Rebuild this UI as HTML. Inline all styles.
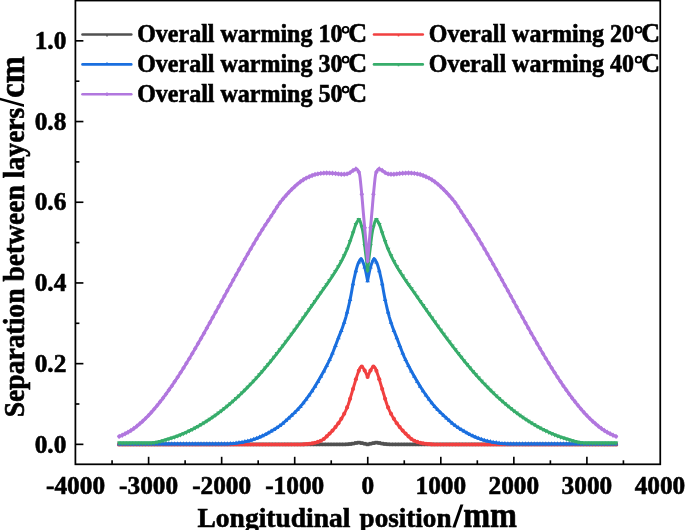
<!DOCTYPE html>
<html><head><meta charset="utf-8"><style>
html,body{margin:0;padding:0;background:#fff}
svg{display:block;will-change:transform;font-family:"Liberation Serif",serif;font-weight:bold;fill:#000}
text{stroke:#000;stroke-width:0.6px}
</style></head><body>
<svg width="685" height="530" viewBox="0 0 685 530">
<rect width="685" height="530" fill="#fff"/>
<defs><marker id="mblack" markerWidth="8" markerHeight="8" viewBox="-4 -4 8 8" refX="0" refY="0" markerUnits="userSpaceOnUse"><rect x="-1.8" y="-1.8" width="3.6" height="3.6" fill="#515151"/></marker><marker id="mred" markerWidth="8" markerHeight="8" viewBox="-4 -4 8 8" refX="0" refY="0" markerUnits="userSpaceOnUse"><circle r="2.05" fill="#F14040"/></marker><marker id="mblue" markerWidth="8" markerHeight="8" viewBox="-4 -4 8 8" refX="0" refY="0" markerUnits="userSpaceOnUse"><polygon points="0,-2.7 2.3,1.3 -2.3,1.3" fill="#1A6FDF"/></marker><marker id="mgreen" markerWidth="8" markerHeight="8" viewBox="-4 -4 8 8" refX="0" refY="0" markerUnits="userSpaceOnUse"><polygon points="0,2.7 2.3,-1.3 -2.3,-1.3" fill="#37AD6B"/></marker><marker id="mpurple" markerWidth="8" markerHeight="8" viewBox="-4 -4 8 8" refX="0" refY="0" markerUnits="userSpaceOnUse"><polygon points="0,-2.7 2.3,0 0,2.7 -2.3,0" fill="#B177DE"/></marker></defs>
<g fill="none" stroke-width="3.0" stroke-linejoin="round" stroke-linecap="butt">
<path d="M118.0,444.4 L118.5,444.4 L119.0,444.4 L119.5,444.4 L120.0,444.4 L120.5,444.4 L121.0,444.4 L121.5,444.4 L122.0,444.4 L122.5,444.4 L123.0,444.4 L123.5,444.4 L124.0,444.4 L124.5,444.4 L125.0,444.4 L125.5,444.4 L126.0,444.4 L126.5,444.4 L127.0,444.4 L127.5,444.4 L128.0,444.4 L128.5,444.4 L129.0,444.4 L129.5,444.4 L130.0,444.4 L130.5,444.4 L131.0,444.4 L131.5,444.4 L132.0,444.4 L132.5,444.4 L133.0,444.4 L133.5,444.4 L134.0,444.4 L134.5,444.4 L135.0,444.4 L135.5,444.4 L136.0,444.4 L136.5,444.4 L137.0,444.4 L137.5,444.4 L138.0,444.4 L138.5,444.4 L139.0,444.4 L139.5,444.4 L140.0,444.4 L140.5,444.4 L141.0,444.4 L141.5,444.4 L142.0,444.4 L142.5,444.4 L143.0,444.4 L143.5,444.4 L144.0,444.4 L144.5,444.4 L145.0,444.4 L145.5,444.4 L146.0,444.4 L146.5,444.4 L147.0,444.4 L147.5,444.4 L148.0,444.4 L148.5,444.4 L149.0,444.4 L149.5,444.4 L150.0,444.4 L150.5,444.4 L151.0,444.4 L151.5,444.4 L152.0,444.4 L152.5,444.4 L153.0,444.4 L153.5,444.4 L154.0,444.4 L154.5,444.4 L155.0,444.4 L155.5,444.4 L156.0,444.4 L156.5,444.4 L157.0,444.4 L157.5,444.4 L158.0,444.4 L158.5,444.4 L159.0,444.4 L159.5,444.4 L160.0,444.4 L160.5,444.4 L161.0,444.4 L161.5,444.4 L162.0,444.4 L162.5,444.4 L163.0,444.4 L163.5,444.4 L164.0,444.4 L164.5,444.4 L165.0,444.4 L165.5,444.4 L166.0,444.4 L166.5,444.4 L167.0,444.4 L167.5,444.4 L168.0,444.4 L168.5,444.4 L169.0,444.4 L169.5,444.4 L170.0,444.4 L170.5,444.4 L171.0,444.4 L171.5,444.4 L172.0,444.4 L172.5,444.4 L173.0,444.4 L173.5,444.4 L174.0,444.4 L174.5,444.4 L175.0,444.4 L175.5,444.4 L176.0,444.4 L176.5,444.4 L177.0,444.4 L177.5,444.4 L178.0,444.4 L178.5,444.4 L179.0,444.4 L179.5,444.4 L180.0,444.4 L180.5,444.4 L181.0,444.4 L181.5,444.4 L182.0,444.4 L182.5,444.4 L183.0,444.4 L183.5,444.4 L184.0,444.4 L184.5,444.4 L185.0,444.4 L185.5,444.4 L186.0,444.4 L186.5,444.4 L187.0,444.4 L187.5,444.4 L188.0,444.4 L188.5,444.4 L189.0,444.4 L189.5,444.4 L190.0,444.4 L190.5,444.4 L191.0,444.4 L191.5,444.4 L192.0,444.4 L192.5,444.4 L193.0,444.4 L193.5,444.4 L194.0,444.4 L194.5,444.4 L195.0,444.4 L195.5,444.4 L196.0,444.4 L196.5,444.4 L197.0,444.4 L197.5,444.4 L198.0,444.4 L198.5,444.4 L199.0,444.4 L199.5,444.4 L200.0,444.4 L200.5,444.4 L201.0,444.4 L201.5,444.4 L202.0,444.4 L202.5,444.4 L203.0,444.4 L203.5,444.4 L204.0,444.4 L204.5,444.4 L205.0,444.4 L205.5,444.4 L206.0,444.4 L206.5,444.4 L207.0,444.4 L207.5,444.4 L208.0,444.4 L208.5,444.4 L209.0,444.4 L209.5,444.4 L210.0,444.4 L210.5,444.4 L211.0,444.4 L211.5,444.4 L212.0,444.4 L212.5,444.4 L213.0,444.4 L213.5,444.4 L214.0,444.4 L214.5,444.4 L215.0,444.4 L215.5,444.4 L216.0,444.4 L216.5,444.4 L217.0,444.4 L217.5,444.4 L218.0,444.4 L218.5,444.4 L219.0,444.4 L219.5,444.4 L220.0,444.4 L220.5,444.4 L221.0,444.4 L221.5,444.4 L222.0,444.4 L222.5,444.4 L223.0,444.4 L223.5,444.4 L224.0,444.4 L224.5,444.4 L225.0,444.4 L225.5,444.4 L226.0,444.4 L226.5,444.4 L227.0,444.4 L227.5,444.4 L228.0,444.4 L228.5,444.4 L229.0,444.4 L229.5,444.4 L230.0,444.4 L230.5,444.4 L231.0,444.4 L231.5,444.4 L232.0,444.4 L232.5,444.4 L233.0,444.4 L233.5,444.4 L234.0,444.4 L234.5,444.4 L235.0,444.4 L235.5,444.4 L236.0,444.4 L236.5,444.4 L237.0,444.4 L237.5,444.4 L238.0,444.4 L238.5,444.4 L239.0,444.4 L239.5,444.4 L240.0,444.4 L240.5,444.4 L241.0,444.4 L241.5,444.4 L242.0,444.4 L242.5,444.4 L243.0,444.4 L243.5,444.4 L244.0,444.4 L244.5,444.4 L245.0,444.4 L245.5,444.4 L246.0,444.4 L246.5,444.4 L247.0,444.4 L247.5,444.4 L248.0,444.4 L248.5,444.4 L249.0,444.4 L249.5,444.4 L250.0,444.4 L250.5,444.4 L251.0,444.4 L251.5,444.4 L252.0,444.4 L252.5,444.4 L253.0,444.4 L253.5,444.4 L254.0,444.4 L254.5,444.4 L255.0,444.4 L255.5,444.4 L256.0,444.4 L256.5,444.4 L257.0,444.4 L257.5,444.4 L258.0,444.4 L258.5,444.4 L259.0,444.4 L259.5,444.4 L260.0,444.4 L260.5,444.4 L261.0,444.4 L261.5,444.4 L262.0,444.4 L262.5,444.4 L263.0,444.4 L263.5,444.4 L264.0,444.4 L264.5,444.4 L265.0,444.4 L265.5,444.4 L266.0,444.4 L266.5,444.4 L267.0,444.4 L267.5,444.4 L268.0,444.4 L268.5,444.4 L269.0,444.4 L269.5,444.4 L270.0,444.4 L270.5,444.4 L271.0,444.4 L271.5,444.4 L272.0,444.4 L272.5,444.4 L273.0,444.4 L273.5,444.4 L274.0,444.4 L274.5,444.4 L275.0,444.4 L275.5,444.4 L276.0,444.4 L276.5,444.4 L277.0,444.4 L277.5,444.4 L278.0,444.4 L278.5,444.4 L279.0,444.4 L279.5,444.4 L280.0,444.4 L280.5,444.4 L281.0,444.4 L281.5,444.4 L282.0,444.4 L282.5,444.4 L283.0,444.4 L283.5,444.4 L284.0,444.4 L284.5,444.4 L285.0,444.4 L285.5,444.4 L286.0,444.4 L286.5,444.4 L287.0,444.4 L287.5,444.4 L288.0,444.4 L288.5,444.4 L289.0,444.4 L289.5,444.4 L290.0,444.4 L290.5,444.4 L291.0,444.4 L291.5,444.4 L292.0,444.4 L292.5,444.4 L293.0,444.4 L293.5,444.4 L294.0,444.4 L294.5,444.4 L295.0,444.4 L295.5,444.4 L296.0,444.4 L296.5,444.4 L297.0,444.4 L297.5,444.4 L298.0,444.4 L298.5,444.4 L299.0,444.4 L299.5,444.4 L300.0,444.4 L300.5,444.4 L301.0,444.4 L301.5,444.4 L302.0,444.4 L302.5,444.4 L303.0,444.4 L303.5,444.4 L304.0,444.4 L304.5,444.4 L305.0,444.4 L305.5,444.4 L306.0,444.4 L306.5,444.4 L307.0,444.4 L307.5,444.4 L308.0,444.4 L308.5,444.4 L309.0,444.4 L309.5,444.4 L310.0,444.4 L310.5,444.4 L311.0,444.4 L311.5,444.4 L312.0,444.4 L312.5,444.4 L313.0,444.4 L313.5,444.4 L314.0,444.4 L314.5,444.4 L315.0,444.4 L315.5,444.4 L316.0,444.4 L316.5,444.4 L317.0,444.4 L317.5,444.4 L318.0,444.4 L318.5,444.4 L319.0,444.4 L319.5,444.4 L320.0,444.4 L320.5,444.4 L321.0,444.4 L321.5,444.4 L322.0,444.4 L322.5,444.4 L323.0,444.4 L323.5,444.4 L324.0,444.4 L324.5,444.4 L325.0,444.4 L325.5,444.4 L326.0,444.4 L326.5,444.4 L327.0,444.4 L327.5,444.4 L328.0,444.4 L328.5,444.4 L329.0,444.4 L329.5,444.4 L330.0,444.4 L330.5,444.4 L331.0,444.4 L331.5,444.4 L332.0,444.4 L332.5,444.4 L333.0,444.4 L333.5,444.4 L334.0,444.4 L334.5,444.4 L335.0,444.4 L335.5,444.4 L336.0,444.4 L336.5,444.4 L337.0,444.4 L337.5,444.4 L338.0,444.4 L338.5,444.4 L339.0,444.4 L339.5,444.4 L340.0,444.4 L340.5,444.4 L341.0,444.4 L341.5,444.4 L342.0,444.4 L342.5,444.4 L343.0,444.4 L343.5,444.4 L344.0,444.4 L344.5,444.4 L345.0,444.4 L345.5,444.4 L346.0,444.4 L346.5,444.4 L347.0,444.3 L347.5,444.3 L348.0,444.3 L348.5,444.2 L349.0,444.2 L349.5,444.1 L350.0,444.0 L350.5,444.0 L351.0,443.9 L351.5,443.9 L352.0,443.8 L352.5,443.7 L353.0,443.6 L353.5,443.5 L354.0,443.4 L354.5,443.3 L355.0,443.2 L355.5,443.1 L356.0,443.0 L356.5,442.9 L357.0,442.8 L357.5,442.7 L358.0,442.6 L358.5,442.6 L358.6,442.6 L359.0,442.6 L359.5,442.7 L360.0,442.8 L360.5,442.9 L361.0,443.0 L361.5,443.1 L362.0,443.2 L362.5,443.3 L363.0,443.4 L363.5,443.5 L364.0,443.6 L364.5,443.7 L365.0,443.8 L365.5,443.9 L366.0,444.0 L366.5,444.1 L367.0,444.3 L367.5,444.4 L367.6,444.4 L367.7,444.4 L368.2,444.3 L368.7,444.1 L369.2,444.0 L369.7,443.9 L370.2,443.8 L370.7,443.7 L371.2,443.6 L371.7,443.5 L372.2,443.4 L372.7,443.3 L373.2,443.2 L373.7,443.1 L374.2,443.0 L374.7,442.9 L375.2,442.8 L375.7,442.7 L376.2,442.6 L376.6,442.6 L376.7,442.6 L377.2,442.6 L377.7,442.7 L378.2,442.8 L378.7,442.9 L379.2,443.0 L379.7,443.1 L380.2,443.2 L380.7,443.3 L381.2,443.4 L381.7,443.5 L382.2,443.6 L382.7,443.7 L383.2,443.8 L383.7,443.9 L384.2,443.9 L384.7,444.0 L385.2,444.0 L385.7,444.1 L386.2,444.2 L386.7,444.2 L387.2,444.3 L387.7,444.3 L388.2,444.3 L388.7,444.4 L389.2,444.4 L389.7,444.4 L390.2,444.4 L390.7,444.4 L391.2,444.4 L391.7,444.4 L392.2,444.4 L392.7,444.4 L393.2,444.4 L393.7,444.4 L394.2,444.4 L394.7,444.4 L395.2,444.4 L395.7,444.4 L396.2,444.4 L396.7,444.4 L397.2,444.4 L397.7,444.4 L398.2,444.4 L398.7,444.4 L399.2,444.4 L399.7,444.4 L400.2,444.4 L400.7,444.4 L401.2,444.4 L401.7,444.4 L402.2,444.4 L402.7,444.4 L403.2,444.4 L403.7,444.4 L404.2,444.4 L404.7,444.4 L405.2,444.4 L405.7,444.4 L406.2,444.4 L406.7,444.4 L407.2,444.4 L407.7,444.4 L408.2,444.4 L408.7,444.4 L409.2,444.4 L409.7,444.4 L410.2,444.4 L410.7,444.4 L411.2,444.4 L411.7,444.4 L412.2,444.4 L412.7,444.4 L413.2,444.4 L413.7,444.4 L414.2,444.4 L414.7,444.4 L415.2,444.4 L415.7,444.4 L416.2,444.4 L416.7,444.4 L417.2,444.4 L417.7,444.4 L418.2,444.4 L418.7,444.4 L419.2,444.4 L419.7,444.4 L420.2,444.4 L420.7,444.4 L421.2,444.4 L421.7,444.4 L422.2,444.4 L422.7,444.4 L423.2,444.4 L423.7,444.4 L424.2,444.4 L424.7,444.4 L425.2,444.4 L425.7,444.4 L426.2,444.4 L426.7,444.4 L427.2,444.4 L427.7,444.4 L428.2,444.4 L428.7,444.4 L429.2,444.4 L429.7,444.4 L430.2,444.4 L430.7,444.4 L431.2,444.4 L431.7,444.4 L432.2,444.4 L432.7,444.4 L433.2,444.4 L433.7,444.4 L434.2,444.4 L434.7,444.4 L435.2,444.4 L435.7,444.4 L436.2,444.4 L436.7,444.4 L437.2,444.4 L437.7,444.4 L438.2,444.4 L438.7,444.4 L439.2,444.4 L439.7,444.4 L440.2,444.4 L440.7,444.4 L441.2,444.4 L441.7,444.4 L442.2,444.4 L442.7,444.4 L443.2,444.4 L443.7,444.4 L444.2,444.4 L444.7,444.4 L445.2,444.4 L445.7,444.4 L446.2,444.4 L446.7,444.4 L447.2,444.4 L447.7,444.4 L448.2,444.4 L448.7,444.4 L449.2,444.4 L449.7,444.4 L450.2,444.4 L450.7,444.4 L451.2,444.4 L451.7,444.4 L452.2,444.4 L452.7,444.4 L453.2,444.4 L453.7,444.4 L454.2,444.4 L454.7,444.4 L455.2,444.4 L455.7,444.4 L456.2,444.4 L456.7,444.4 L457.2,444.4 L457.7,444.4 L458.2,444.4 L458.7,444.4 L459.2,444.4 L459.7,444.4 L460.2,444.4 L460.7,444.4 L461.2,444.4 L461.7,444.4 L462.2,444.4 L462.7,444.4 L463.2,444.4 L463.7,444.4 L464.2,444.4 L464.7,444.4 L465.2,444.4 L465.7,444.4 L466.2,444.4 L466.7,444.4 L467.2,444.4 L467.7,444.4 L468.2,444.4 L468.7,444.4 L469.2,444.4 L469.7,444.4 L470.2,444.4 L470.7,444.4 L471.2,444.4 L471.7,444.4 L472.2,444.4 L472.7,444.4 L473.2,444.4 L473.7,444.4 L474.2,444.4 L474.7,444.4 L475.2,444.4 L475.7,444.4 L476.2,444.4 L476.7,444.4 L477.2,444.4 L477.7,444.4 L478.2,444.4 L478.7,444.4 L479.2,444.4 L479.7,444.4 L480.2,444.4 L480.7,444.4 L481.2,444.4 L481.7,444.4 L482.2,444.4 L482.7,444.4 L483.2,444.4 L483.7,444.4 L484.2,444.4 L484.7,444.4 L485.2,444.4 L485.7,444.4 L486.2,444.4 L486.7,444.4 L487.2,444.4 L487.7,444.4 L488.2,444.4 L488.7,444.4 L489.2,444.4 L489.7,444.4 L490.2,444.4 L490.7,444.4 L491.2,444.4 L491.7,444.4 L492.2,444.4 L492.7,444.4 L493.2,444.4 L493.7,444.4 L494.2,444.4 L494.7,444.4 L495.2,444.4 L495.7,444.4 L496.2,444.4 L496.7,444.4 L497.2,444.4 L497.7,444.4 L498.2,444.4 L498.7,444.4 L499.2,444.4 L499.7,444.4 L500.2,444.4 L500.7,444.4 L501.2,444.4 L501.7,444.4 L502.2,444.4 L502.7,444.4 L503.2,444.4 L503.7,444.4 L504.2,444.4 L504.7,444.4 L505.2,444.4 L505.7,444.4 L506.2,444.4 L506.7,444.4 L507.2,444.4 L507.7,444.4 L508.2,444.4 L508.7,444.4 L509.2,444.4 L509.7,444.4 L510.2,444.4 L510.7,444.4 L511.2,444.4 L511.7,444.4 L512.2,444.4 L512.7,444.4 L513.2,444.4 L513.7,444.4 L514.2,444.4 L514.7,444.4 L515.2,444.4 L515.7,444.4 L516.2,444.4 L516.7,444.4 L517.2,444.4 L517.7,444.4 L518.2,444.4 L518.7,444.4 L519.2,444.4 L519.7,444.4 L520.2,444.4 L520.7,444.4 L521.2,444.4 L521.7,444.4 L522.2,444.4 L522.7,444.4 L523.2,444.4 L523.7,444.4 L524.2,444.4 L524.7,444.4 L525.2,444.4 L525.7,444.4 L526.2,444.4 L526.7,444.4 L527.2,444.4 L527.7,444.4 L528.2,444.4 L528.7,444.4 L529.2,444.4 L529.7,444.4 L530.2,444.4 L530.7,444.4 L531.2,444.4 L531.7,444.4 L532.2,444.4 L532.7,444.4 L533.2,444.4 L533.7,444.4 L534.2,444.4 L534.7,444.4 L535.2,444.4 L535.7,444.4 L536.2,444.4 L536.7,444.4 L537.2,444.4 L537.7,444.4 L538.2,444.4 L538.7,444.4 L539.2,444.4 L539.7,444.4 L540.2,444.4 L540.7,444.4 L541.2,444.4 L541.7,444.4 L542.2,444.4 L542.7,444.4 L543.2,444.4 L543.7,444.4 L544.2,444.4 L544.7,444.4 L545.2,444.4 L545.7,444.4 L546.2,444.4 L546.7,444.4 L547.2,444.4 L547.7,444.4 L548.2,444.4 L548.7,444.4 L549.2,444.4 L549.7,444.4 L550.2,444.4 L550.7,444.4 L551.2,444.4 L551.7,444.4 L552.2,444.4 L552.7,444.4 L553.2,444.4 L553.7,444.4 L554.2,444.4 L554.7,444.4 L555.2,444.4 L555.7,444.4 L556.2,444.4 L556.7,444.4 L557.2,444.4 L557.7,444.4 L558.2,444.4 L558.7,444.4 L559.2,444.4 L559.7,444.4 L560.2,444.4 L560.7,444.4 L561.2,444.4 L561.7,444.4 L562.2,444.4 L562.7,444.4 L563.2,444.4 L563.7,444.4 L564.2,444.4 L564.7,444.4 L565.2,444.4 L565.7,444.4 L566.2,444.4 L566.7,444.4 L567.2,444.4 L567.7,444.4 L568.2,444.4 L568.7,444.4 L569.2,444.4 L569.7,444.4 L570.2,444.4 L570.7,444.4 L571.2,444.4 L571.7,444.4 L572.2,444.4 L572.7,444.4 L573.2,444.4 L573.7,444.4 L574.2,444.4 L574.7,444.4 L575.2,444.4 L575.7,444.4 L576.2,444.4 L576.7,444.4 L577.2,444.4 L577.7,444.4 L578.2,444.4 L578.7,444.4 L579.2,444.4 L579.7,444.4 L580.2,444.4 L580.7,444.4 L581.2,444.4 L581.7,444.4 L582.2,444.4 L582.7,444.4 L583.2,444.4 L583.7,444.4 L584.2,444.4 L584.7,444.4 L585.2,444.4 L585.7,444.4 L586.2,444.4 L586.7,444.4 L587.2,444.4 L587.7,444.4 L588.2,444.4 L588.7,444.4 L589.2,444.4 L589.7,444.4 L590.2,444.4 L590.7,444.4 L591.2,444.4 L591.7,444.4 L592.2,444.4 L592.7,444.4 L593.2,444.4 L593.7,444.4 L594.2,444.4 L594.7,444.4 L595.2,444.4 L595.7,444.4 L596.2,444.4 L596.7,444.4 L597.2,444.4 L597.7,444.4 L598.2,444.4 L598.7,444.4 L599.2,444.4 L599.7,444.4 L600.2,444.4 L600.7,444.4 L601.2,444.4 L601.7,444.4 L602.2,444.4 L602.7,444.4 L603.2,444.4 L603.7,444.4 L604.2,444.4 L604.7,444.4 L605.2,444.4 L605.7,444.4 L606.2,444.4 L606.7,444.4 L607.2,444.4 L607.7,444.4 L608.2,444.4 L608.7,444.4 L609.2,444.4 L609.7,444.4 L610.2,444.4 L610.7,444.4 L611.2,444.4 L611.7,444.4 L612.2,444.4 L612.7,444.4 L613.2,444.4 L613.7,444.4 L614.2,444.4 L614.7,444.4 L615.2,444.4 L615.7,444.4 L616.2,444.4 L616.7,444.4 L617.2,444.4" stroke="#515151"/>
<polyline points="119.2,444.4 122.2,444.4 125.1,444.4 128.0,444.4 130.9,444.4 133.8,444.4 136.8,444.4 139.7,444.4 142.6,444.4 145.5,444.4 148.5,444.4 151.4,444.4 154.3,444.4 157.2,444.4 160.1,444.4 163.1,444.4 166.0,444.4 168.9,444.4 171.8,444.4 174.7,444.4 177.7,444.4 180.6,444.4 183.5,444.4 186.4,444.4 189.4,444.4 192.3,444.4 195.2,444.4 198.1,444.4 201.0,444.4 204.0,444.4 206.9,444.4 209.8,444.4 212.7,444.4 215.7,444.4 218.6,444.4 221.5,444.4 224.4,444.4 227.3,444.4 230.3,444.4 233.2,444.4 236.1,444.4 239.0,444.4 242.0,444.4 244.9,444.4 247.8,444.4 250.7,444.4 253.6,444.4 256.6,444.4 259.5,444.4 262.4,444.4 265.3,444.4 268.3,444.4 271.2,444.4 274.1,444.4 277.0,444.4 279.9,444.4 282.9,444.4 285.8,444.4 288.7,444.4 291.6,444.4 294.6,444.4 297.5,444.4 300.4,444.4 303.3,444.4 306.2,444.4 309.2,444.4 312.1,444.4 315.0,444.4 317.9,444.4 320.8,444.4 323.8,444.4 326.7,444.4 329.6,444.4 332.5,444.4 335.5,444.4 338.4,444.4 341.3,444.4 344.2,444.4 347.1,444.3 350.1,444.0 353.0,443.6 355.9,443.0 358.8,442.6 361.8,443.1 364.7,443.7 367.6,444.4 370.5,443.7 373.4,443.1 376.4,442.6 379.3,443.0 382.2,443.6 385.1,444.0 388.1,444.3 391.0,444.4 393.9,444.4 396.8,444.4 399.7,444.4 402.7,444.4 405.6,444.4 408.5,444.4 411.4,444.4 414.4,444.4 417.3,444.4 420.2,444.4 423.1,444.4 426.0,444.4 429.0,444.4 431.9,444.4 434.8,444.4 437.7,444.4 440.7,444.4 443.6,444.4 446.5,444.4 449.4,444.4 452.3,444.4 455.3,444.4 458.2,444.4 461.1,444.4 464.0,444.4 466.9,444.4 469.9,444.4 472.8,444.4 475.7,444.4 478.6,444.4 481.6,444.4 484.5,444.4 487.4,444.4 490.3,444.4 493.2,444.4 496.2,444.4 499.1,444.4 502.0,444.4 504.9,444.4 507.9,444.4 510.8,444.4 513.7,444.4 516.6,444.4 519.5,444.4 522.5,444.4 525.4,444.4 528.3,444.4 531.2,444.4 534.2,444.4 537.1,444.4 540.0,444.4 542.9,444.4 545.8,444.4 548.8,444.4 551.7,444.4 554.6,444.4 557.5,444.4 560.5,444.4 563.4,444.4 566.3,444.4 569.2,444.4 572.1,444.4 575.1,444.4 578.0,444.4 580.9,444.4 583.8,444.4 586.8,444.4 589.7,444.4 592.6,444.4 595.5,444.4 598.4,444.4 601.4,444.4 604.3,444.4 607.2,444.4 610.1,444.4 613.0,444.4 616.0,444.4" stroke="none" marker-start="url(#mblack)" marker-mid="url(#mblack)" marker-end="url(#mblack)"/>
<path d="M118.0,444.5 L118.5,444.5 L119.0,444.5 L119.5,444.5 L120.0,444.5 L120.5,444.5 L121.0,444.5 L121.5,444.5 L122.0,444.5 L122.5,444.5 L123.0,444.5 L123.5,444.5 L124.0,444.5 L124.5,444.5 L125.0,444.5 L125.5,444.5 L126.0,444.5 L126.5,444.5 L127.0,444.5 L127.5,444.5 L128.0,444.5 L128.5,444.5 L129.0,444.5 L129.5,444.5 L130.0,444.5 L130.5,444.5 L131.0,444.5 L131.5,444.5 L132.0,444.5 L132.5,444.5 L133.0,444.5 L133.5,444.5 L134.0,444.5 L134.5,444.5 L135.0,444.5 L135.5,444.5 L136.0,444.5 L136.5,444.5 L137.0,444.5 L137.5,444.5 L138.0,444.5 L138.5,444.5 L139.0,444.5 L139.5,444.5 L140.0,444.5 L140.5,444.5 L141.0,444.5 L141.5,444.5 L142.0,444.5 L142.5,444.5 L143.0,444.5 L143.5,444.5 L144.0,444.5 L144.5,444.5 L145.0,444.5 L145.5,444.5 L146.0,444.5 L146.5,444.5 L147.0,444.5 L147.5,444.5 L148.0,444.5 L148.5,444.5 L149.0,444.5 L149.5,444.5 L150.0,444.5 L150.5,444.5 L151.0,444.5 L151.5,444.5 L152.0,444.5 L152.5,444.5 L153.0,444.5 L153.5,444.5 L154.0,444.5 L154.5,444.5 L155.0,444.5 L155.5,444.5 L156.0,444.5 L156.5,444.5 L157.0,444.5 L157.5,444.5 L158.0,444.5 L158.5,444.5 L159.0,444.5 L159.5,444.5 L160.0,444.5 L160.5,444.5 L161.0,444.5 L161.5,444.5 L162.0,444.5 L162.5,444.5 L163.0,444.5 L163.5,444.5 L164.0,444.5 L164.5,444.5 L165.0,444.5 L165.5,444.5 L166.0,444.5 L166.5,444.5 L167.0,444.5 L167.5,444.5 L168.0,444.5 L168.5,444.5 L169.0,444.5 L169.5,444.5 L170.0,444.5 L170.5,444.5 L171.0,444.5 L171.5,444.5 L172.0,444.5 L172.5,444.5 L173.0,444.5 L173.5,444.5 L174.0,444.5 L174.5,444.5 L175.0,444.5 L175.5,444.5 L176.0,444.5 L176.5,444.5 L177.0,444.5 L177.5,444.5 L178.0,444.5 L178.5,444.5 L179.0,444.5 L179.5,444.5 L180.0,444.5 L180.5,444.5 L181.0,444.5 L181.5,444.5 L182.0,444.5 L182.5,444.5 L183.0,444.5 L183.5,444.5 L184.0,444.5 L184.5,444.5 L185.0,444.5 L185.5,444.5 L186.0,444.5 L186.5,444.5 L187.0,444.5 L187.5,444.5 L188.0,444.5 L188.5,444.5 L189.0,444.5 L189.5,444.5 L190.0,444.5 L190.5,444.5 L191.0,444.5 L191.5,444.5 L192.0,444.5 L192.5,444.5 L193.0,444.5 L193.5,444.5 L194.0,444.5 L194.5,444.5 L195.0,444.5 L195.5,444.5 L196.0,444.5 L196.5,444.5 L197.0,444.5 L197.5,444.5 L198.0,444.5 L198.5,444.5 L199.0,444.5 L199.5,444.5 L200.0,444.5 L200.5,444.5 L201.0,444.5 L201.5,444.5 L202.0,444.5 L202.5,444.5 L203.0,444.5 L203.5,444.5 L204.0,444.5 L204.5,444.5 L205.0,444.5 L205.5,444.5 L206.0,444.5 L206.5,444.5 L207.0,444.5 L207.5,444.5 L208.0,444.5 L208.5,444.5 L209.0,444.5 L209.5,444.5 L210.0,444.5 L210.5,444.5 L211.0,444.5 L211.5,444.5 L212.0,444.5 L212.5,444.5 L213.0,444.5 L213.5,444.5 L214.0,444.5 L214.5,444.5 L215.0,444.5 L215.5,444.5 L216.0,444.5 L216.5,444.5 L217.0,444.5 L217.5,444.5 L218.0,444.5 L218.5,444.5 L219.0,444.5 L219.5,444.5 L220.0,444.5 L220.5,444.5 L221.0,444.5 L221.5,444.5 L222.0,444.5 L222.5,444.5 L223.0,444.5 L223.5,444.5 L224.0,444.5 L224.5,444.5 L225.0,444.5 L225.5,444.5 L226.0,444.5 L226.5,444.5 L227.0,444.5 L227.5,444.5 L228.0,444.5 L228.5,444.5 L229.0,444.5 L229.5,444.5 L230.0,444.5 L230.5,444.5 L231.0,444.5 L231.5,444.5 L232.0,444.5 L232.5,444.5 L233.0,444.5 L233.5,444.5 L234.0,444.5 L234.5,444.5 L235.0,444.5 L235.5,444.5 L236.0,444.5 L236.5,444.5 L237.0,444.5 L237.5,444.5 L238.0,444.5 L238.5,444.5 L239.0,444.5 L239.5,444.5 L240.0,444.5 L240.5,444.5 L241.0,444.5 L241.5,444.5 L242.0,444.5 L242.5,444.5 L243.0,444.5 L243.5,444.5 L244.0,444.5 L244.5,444.5 L245.0,444.5 L245.5,444.5 L246.0,444.5 L246.5,444.5 L247.0,444.5 L247.5,444.5 L248.0,444.5 L248.5,444.5 L249.0,444.5 L249.5,444.5 L250.0,444.5 L250.5,444.5 L251.0,444.5 L251.5,444.5 L252.0,444.5 L252.5,444.5 L253.0,444.5 L253.5,444.5 L254.0,444.5 L254.5,444.5 L255.0,444.5 L255.5,444.5 L256.0,444.5 L256.5,444.5 L257.0,444.5 L257.5,444.5 L258.0,444.5 L258.5,444.5 L259.0,444.5 L259.5,444.5 L260.0,444.5 L260.5,444.5 L261.0,444.5 L261.5,444.5 L262.0,444.5 L262.5,444.5 L263.0,444.5 L263.5,444.5 L264.0,444.5 L264.5,444.5 L265.0,444.5 L265.5,444.5 L266.0,444.5 L266.5,444.5 L267.0,444.5 L267.5,444.5 L268.0,444.5 L268.5,444.5 L269.0,444.5 L269.5,444.5 L270.0,444.5 L270.5,444.5 L271.0,444.5 L271.5,444.5 L272.0,444.5 L272.5,444.5 L273.0,444.5 L273.5,444.5 L274.0,444.5 L274.5,444.5 L275.0,444.5 L275.5,444.5 L276.0,444.5 L276.5,444.5 L277.0,444.5 L277.5,444.5 L278.0,444.5 L278.5,444.5 L279.0,444.5 L279.5,444.5 L280.0,444.5 L280.5,444.5 L281.0,444.5 L281.5,444.5 L282.0,444.5 L282.5,444.5 L283.0,444.5 L283.5,444.5 L284.0,444.5 L284.5,444.5 L285.0,444.5 L285.5,444.5 L286.0,444.5 L286.5,444.5 L287.0,444.5 L287.5,444.5 L288.0,444.5 L288.5,444.5 L289.0,444.5 L289.5,444.5 L290.0,444.5 L290.5,444.5 L291.0,444.5 L291.5,444.5 L292.0,444.5 L292.5,444.5 L293.0,444.5 L293.5,444.5 L294.0,444.5 L294.5,444.5 L295.0,444.5 L295.5,444.5 L296.0,444.5 L296.5,444.5 L297.0,444.5 L297.5,444.5 L298.0,444.5 L298.5,444.5 L299.0,444.5 L299.5,444.5 L300.0,444.5 L300.5,444.5 L301.0,444.5 L301.5,444.5 L302.0,444.5 L302.5,444.4 L303.0,444.4 L303.5,444.4 L304.0,444.3 L304.5,444.3 L305.0,444.3 L305.5,444.2 L306.0,444.2 L306.5,444.1 L307.0,444.1 L307.5,444.0 L308.0,443.9 L308.5,443.9 L309.0,443.8 L309.5,443.8 L310.0,443.7 L310.5,443.6 L311.0,443.6 L311.5,443.5 L312.0,443.4 L312.5,443.3 L313.0,443.2 L313.5,443.1 L314.0,443.0 L314.5,442.9 L315.0,442.8 L315.5,442.6 L316.0,442.5 L316.5,442.4 L317.0,442.2 L317.5,442.1 L318.0,441.9 L318.5,441.7 L319.0,441.6 L319.5,441.4 L320.0,441.2 L320.5,441.0 L321.0,440.8 L321.5,440.5 L322.0,440.2 L322.5,439.9 L323.0,439.5 L323.5,439.2 L324.0,438.8 L324.5,438.4 L325.0,437.9 L325.5,437.5 L326.0,437.1 L326.5,436.6 L327.0,436.1 L327.5,435.6 L328.0,435.2 L328.5,434.7 L329.0,434.2 L329.5,433.7 L330.0,433.2 L330.5,432.7 L331.0,432.2 L331.5,431.7 L332.0,431.1 L332.5,430.6 L333.0,430.0 L333.5,429.5 L334.0,428.9 L334.5,428.3 L335.0,427.7 L335.5,427.1 L336.0,426.4 L336.5,425.8 L337.0,425.1 L337.5,424.4 L338.0,423.7 L338.5,423.0 L339.0,422.3 L339.5,421.6 L340.0,420.8 L340.5,420.1 L341.0,419.3 L341.5,418.5 L342.0,417.7 L342.5,416.8 L343.0,416.0 L343.5,415.1 L344.0,414.1 L344.5,413.1 L345.0,412.1 L345.5,411.1 L346.0,410.0 L346.5,408.9 L347.0,407.7 L347.3,407.0 L347.5,406.5 L348.0,405.2 L348.5,403.8 L349.0,402.3 L349.5,400.7 L350.0,399.1 L350.5,397.4 L351.0,395.7 L351.5,394.0 L352.0,392.3 L352.5,390.6 L353.0,389.0 L353.3,388.0 L353.5,387.4 L354.0,385.7 L354.5,384.1 L355.0,382.4 L355.5,380.7 L356.0,379.0 L356.5,377.4 L357.0,375.9 L357.5,374.4 L358.0,373.0 L358.5,371.6 L359.0,370.2 L359.5,369.0 L360.0,368.0 L360.3,367.6 L360.5,367.4 L361.0,366.9 L361.5,366.5 L362.0,366.4 L362.5,367.0 L363.0,367.7 L363.5,368.5 L364.0,369.3 L364.4,370.0 L364.5,370.2 L365.0,371.1 L365.5,372.1 L366.0,373.2 L366.5,374.3 L367.0,375.5 L367.5,376.7 L367.6,377.0 L367.7,376.7 L368.2,375.5 L368.7,374.3 L369.2,373.2 L369.7,372.1 L370.2,371.1 L370.7,370.2 L370.8,370.0 L371.2,369.3 L371.7,368.5 L372.2,367.7 L372.7,367.0 L373.2,366.4 L373.7,366.5 L374.2,366.9 L374.7,367.4 L374.9,367.6 L375.2,368.0 L375.7,369.0 L376.2,370.2 L376.7,371.6 L377.2,373.0 L377.7,374.4 L378.2,375.9 L378.7,377.4 L379.2,379.0 L379.7,380.7 L380.2,382.4 L380.7,384.1 L381.2,385.7 L381.7,387.4 L381.9,388.0 L382.2,389.0 L382.7,390.6 L383.2,392.3 L383.7,394.0 L384.2,395.7 L384.7,397.4 L385.2,399.1 L385.7,400.7 L386.2,402.3 L386.7,403.8 L387.2,405.2 L387.7,406.5 L387.9,407.0 L388.2,407.7 L388.7,408.9 L389.2,410.0 L389.7,411.1 L390.2,412.1 L390.7,413.1 L391.2,414.1 L391.7,415.1 L392.2,416.0 L392.7,416.8 L393.2,417.7 L393.7,418.5 L394.2,419.3 L394.7,420.1 L395.2,420.8 L395.7,421.6 L396.2,422.3 L396.7,423.0 L397.2,423.7 L397.7,424.4 L398.2,425.1 L398.7,425.8 L399.2,426.4 L399.7,427.1 L400.2,427.7 L400.7,428.3 L401.2,428.9 L401.7,429.5 L402.2,430.0 L402.7,430.6 L403.2,431.1 L403.7,431.7 L404.2,432.2 L404.7,432.7 L405.2,433.2 L405.7,433.7 L406.2,434.2 L406.7,434.7 L407.2,435.2 L407.7,435.6 L408.2,436.1 L408.7,436.6 L409.2,437.1 L409.7,437.5 L410.2,437.9 L410.7,438.4 L411.2,438.8 L411.7,439.2 L412.2,439.5 L412.7,439.9 L413.2,440.2 L413.7,440.5 L414.2,440.8 L414.7,441.0 L415.2,441.2 L415.7,441.4 L416.2,441.6 L416.7,441.7 L417.2,441.9 L417.7,442.1 L418.2,442.2 L418.7,442.4 L419.2,442.5 L419.7,442.6 L420.2,442.8 L420.7,442.9 L421.2,443.0 L421.7,443.1 L422.2,443.2 L422.7,443.3 L423.2,443.4 L423.7,443.5 L424.2,443.6 L424.7,443.6 L425.2,443.7 L425.7,443.8 L426.2,443.8 L426.7,443.9 L427.2,443.9 L427.7,444.0 L428.2,444.1 L428.7,444.1 L429.2,444.2 L429.7,444.2 L430.2,444.3 L430.7,444.3 L431.2,444.3 L431.7,444.4 L432.2,444.4 L432.7,444.4 L433.2,444.5 L433.7,444.5 L434.2,444.5 L434.7,444.5 L435.2,444.5 L435.7,444.5 L436.2,444.5 L436.7,444.5 L437.2,444.5 L437.7,444.5 L438.2,444.5 L438.7,444.5 L439.2,444.5 L439.7,444.5 L440.2,444.5 L440.7,444.5 L441.2,444.5 L441.7,444.5 L442.2,444.5 L442.7,444.5 L443.2,444.5 L443.7,444.5 L444.2,444.5 L444.7,444.5 L445.2,444.5 L445.7,444.5 L446.2,444.5 L446.7,444.5 L447.2,444.5 L447.7,444.5 L448.2,444.5 L448.7,444.5 L449.2,444.5 L449.7,444.5 L450.2,444.5 L450.7,444.5 L451.2,444.5 L451.7,444.5 L452.2,444.5 L452.7,444.5 L453.2,444.5 L453.7,444.5 L454.2,444.5 L454.7,444.5 L455.2,444.5 L455.7,444.5 L456.2,444.5 L456.7,444.5 L457.2,444.5 L457.7,444.5 L458.2,444.5 L458.7,444.5 L459.2,444.5 L459.7,444.5 L460.2,444.5 L460.7,444.5 L461.2,444.5 L461.7,444.5 L462.2,444.5 L462.7,444.5 L463.2,444.5 L463.7,444.5 L464.2,444.5 L464.7,444.5 L465.2,444.5 L465.7,444.5 L466.2,444.5 L466.7,444.5 L467.2,444.5 L467.7,444.5 L468.2,444.5 L468.7,444.5 L469.2,444.5 L469.7,444.5 L470.2,444.5 L470.7,444.5 L471.2,444.5 L471.7,444.5 L472.2,444.5 L472.7,444.5 L473.2,444.5 L473.7,444.5 L474.2,444.5 L474.7,444.5 L475.2,444.5 L475.7,444.5 L476.2,444.5 L476.7,444.5 L477.2,444.5 L477.7,444.5 L478.2,444.5 L478.7,444.5 L479.2,444.5 L479.7,444.5 L480.2,444.5 L480.7,444.5 L481.2,444.5 L481.7,444.5 L482.2,444.5 L482.7,444.5 L483.2,444.5 L483.7,444.5 L484.2,444.5 L484.7,444.5 L485.2,444.5 L485.7,444.5 L486.2,444.5 L486.7,444.5 L487.2,444.5 L487.7,444.5 L488.2,444.5 L488.7,444.5 L489.2,444.5 L489.7,444.5 L490.2,444.5 L490.7,444.5 L491.2,444.5 L491.7,444.5 L492.2,444.5 L492.7,444.5 L493.2,444.5 L493.7,444.5 L494.2,444.5 L494.7,444.5 L495.2,444.5 L495.7,444.5 L496.2,444.5 L496.7,444.5 L497.2,444.5 L497.7,444.5 L498.2,444.5 L498.7,444.5 L499.2,444.5 L499.7,444.5 L500.2,444.5 L500.7,444.5 L501.2,444.5 L501.7,444.5 L502.2,444.5 L502.7,444.5 L503.2,444.5 L503.7,444.5 L504.2,444.5 L504.7,444.5 L505.2,444.5 L505.7,444.5 L506.2,444.5 L506.7,444.5 L507.2,444.5 L507.7,444.5 L508.2,444.5 L508.7,444.5 L509.2,444.5 L509.7,444.5 L510.2,444.5 L510.7,444.5 L511.2,444.5 L511.7,444.5 L512.2,444.5 L512.7,444.5 L513.2,444.5 L513.7,444.5 L514.2,444.5 L514.7,444.5 L515.2,444.5 L515.7,444.5 L516.2,444.5 L516.7,444.5 L517.2,444.5 L517.7,444.5 L518.2,444.5 L518.7,444.5 L519.2,444.5 L519.7,444.5 L520.2,444.5 L520.7,444.5 L521.2,444.5 L521.7,444.5 L522.2,444.5 L522.7,444.5 L523.2,444.5 L523.7,444.5 L524.2,444.5 L524.7,444.5 L525.2,444.5 L525.7,444.5 L526.2,444.5 L526.7,444.5 L527.2,444.5 L527.7,444.5 L528.2,444.5 L528.7,444.5 L529.2,444.5 L529.7,444.5 L530.2,444.5 L530.7,444.5 L531.2,444.5 L531.7,444.5 L532.2,444.5 L532.7,444.5 L533.2,444.5 L533.7,444.5 L534.2,444.5 L534.7,444.5 L535.2,444.5 L535.7,444.5 L536.2,444.5 L536.7,444.5 L537.2,444.5 L537.7,444.5 L538.2,444.5 L538.7,444.5 L539.2,444.5 L539.7,444.5 L540.2,444.5 L540.7,444.5 L541.2,444.5 L541.7,444.5 L542.2,444.5 L542.7,444.5 L543.2,444.5 L543.7,444.5 L544.2,444.5 L544.7,444.5 L545.2,444.5 L545.7,444.5 L546.2,444.5 L546.7,444.5 L547.2,444.5 L547.7,444.5 L548.2,444.5 L548.7,444.5 L549.2,444.5 L549.7,444.5 L550.2,444.5 L550.7,444.5 L551.2,444.5 L551.7,444.5 L552.2,444.5 L552.7,444.5 L553.2,444.5 L553.7,444.5 L554.2,444.5 L554.7,444.5 L555.2,444.5 L555.7,444.5 L556.2,444.5 L556.7,444.5 L557.2,444.5 L557.7,444.5 L558.2,444.5 L558.7,444.5 L559.2,444.5 L559.7,444.5 L560.2,444.5 L560.7,444.5 L561.2,444.5 L561.7,444.5 L562.2,444.5 L562.7,444.5 L563.2,444.5 L563.7,444.5 L564.2,444.5 L564.7,444.5 L565.2,444.5 L565.7,444.5 L566.2,444.5 L566.7,444.5 L567.2,444.5 L567.7,444.5 L568.2,444.5 L568.7,444.5 L569.2,444.5 L569.7,444.5 L570.2,444.5 L570.7,444.5 L571.2,444.5 L571.7,444.5 L572.2,444.5 L572.7,444.5 L573.2,444.5 L573.7,444.5 L574.2,444.5 L574.7,444.5 L575.2,444.5 L575.7,444.5 L576.2,444.5 L576.7,444.5 L577.2,444.5 L577.7,444.5 L578.2,444.5 L578.7,444.5 L579.2,444.5 L579.7,444.5 L580.2,444.5 L580.7,444.5 L581.2,444.5 L581.7,444.5 L582.2,444.5 L582.7,444.5 L583.2,444.5 L583.7,444.5 L584.2,444.5 L584.7,444.5 L585.2,444.5 L585.7,444.5 L586.2,444.5 L586.7,444.5 L587.2,444.5 L587.7,444.5 L588.2,444.5 L588.7,444.5 L589.2,444.5 L589.7,444.5 L590.2,444.5 L590.7,444.5 L591.2,444.5 L591.7,444.5 L592.2,444.5 L592.7,444.5 L593.2,444.5 L593.7,444.5 L594.2,444.5 L594.7,444.5 L595.2,444.5 L595.7,444.5 L596.2,444.5 L596.7,444.5 L597.2,444.5 L597.7,444.5 L598.2,444.5 L598.7,444.5 L599.2,444.5 L599.7,444.5 L600.2,444.5 L600.7,444.5 L601.2,444.5 L601.7,444.5 L602.2,444.5 L602.7,444.5 L603.2,444.5 L603.7,444.5 L604.2,444.5 L604.7,444.5 L605.2,444.5 L605.7,444.5 L606.2,444.5 L606.7,444.5 L607.2,444.5 L607.7,444.5 L608.2,444.5 L608.7,444.5 L609.2,444.5 L609.7,444.5 L610.2,444.5 L610.7,444.5 L611.2,444.5 L611.7,444.5 L612.2,444.5 L612.7,444.5 L613.2,444.5 L613.7,444.5 L614.2,444.5 L614.7,444.5 L615.2,444.5 L615.7,444.5 L616.2,444.5 L616.7,444.5 L617.2,444.5" stroke="#F14040"/>
<polyline points="119.2,444.5 122.2,444.5 125.1,444.5 128.0,444.5 130.9,444.5 133.8,444.5 136.8,444.5 139.7,444.5 142.6,444.5 145.5,444.5 148.5,444.5 151.4,444.5 154.3,444.5 157.2,444.5 160.1,444.5 163.1,444.5 166.0,444.5 168.9,444.5 171.8,444.5 174.7,444.5 177.7,444.5 180.6,444.5 183.5,444.5 186.4,444.5 189.4,444.5 192.3,444.5 195.2,444.5 198.1,444.5 201.0,444.5 204.0,444.5 206.9,444.5 209.8,444.5 212.7,444.5 215.7,444.5 218.6,444.5 221.5,444.5 224.4,444.5 227.3,444.5 230.3,444.5 233.2,444.5 236.1,444.5 239.0,444.5 242.0,444.5 244.9,444.5 247.8,444.5 250.7,444.5 253.6,444.5 256.6,444.5 259.5,444.5 262.4,444.5 265.3,444.5 268.3,444.5 271.2,444.5 274.1,444.5 277.0,444.5 279.9,444.5 282.9,444.5 285.8,444.5 288.7,444.5 291.6,444.5 294.6,444.5 297.5,444.5 300.4,444.5 303.3,444.4 306.2,444.1 309.2,443.8 312.1,443.4 315.0,442.8 317.9,441.9 320.8,440.8 323.8,439.0 326.7,436.4 329.6,433.6 332.5,430.6 335.5,427.1 338.4,423.2 341.3,418.8 344.2,413.7 347.1,407.4 350.1,398.8 353.0,389.0 355.9,379.3 358.8,370.7 361.8,366.5 364.7,370.5 367.6,377.0 370.5,370.5 373.4,366.5 376.4,370.7 379.3,379.3 382.2,389.0 385.1,398.8 388.1,407.4 391.0,413.7 393.9,418.8 396.8,423.2 399.7,427.1 402.7,430.6 405.6,433.6 408.5,436.4 411.4,439.0 414.4,440.8 417.3,441.9 420.2,442.8 423.1,443.4 426.0,443.8 429.0,444.1 431.9,444.4 434.8,444.5 437.7,444.5 440.7,444.5 443.6,444.5 446.5,444.5 449.4,444.5 452.3,444.5 455.3,444.5 458.2,444.5 461.1,444.5 464.0,444.5 466.9,444.5 469.9,444.5 472.8,444.5 475.7,444.5 478.6,444.5 481.6,444.5 484.5,444.5 487.4,444.5 490.3,444.5 493.2,444.5 496.2,444.5 499.1,444.5 502.0,444.5 504.9,444.5 507.9,444.5 510.8,444.5 513.7,444.5 516.6,444.5 519.5,444.5 522.5,444.5 525.4,444.5 528.3,444.5 531.2,444.5 534.2,444.5 537.1,444.5 540.0,444.5 542.9,444.5 545.8,444.5 548.8,444.5 551.7,444.5 554.6,444.5 557.5,444.5 560.5,444.5 563.4,444.5 566.3,444.5 569.2,444.5 572.1,444.5 575.1,444.5 578.0,444.5 580.9,444.5 583.8,444.5 586.8,444.5 589.7,444.5 592.6,444.5 595.5,444.5 598.4,444.5 601.4,444.5 604.3,444.5 607.2,444.5 610.1,444.5 613.0,444.5 616.0,444.5" stroke="none" marker-start="url(#mred)" marker-mid="url(#mred)" marker-end="url(#mred)"/>
<path d="M118.0,443.9 L118.5,443.9 L119.0,443.9 L119.5,443.9 L120.0,443.9 L120.5,443.9 L121.0,443.9 L121.5,443.9 L122.0,443.9 L122.5,443.9 L123.0,443.9 L123.5,443.9 L124.0,443.9 L124.5,443.9 L125.0,443.9 L125.5,443.9 L126.0,443.9 L126.5,443.9 L127.0,443.9 L127.5,443.9 L128.0,443.9 L128.5,443.9 L129.0,443.9 L129.5,443.9 L130.0,443.9 L130.5,443.9 L131.0,443.9 L131.5,443.9 L132.0,443.9 L132.5,443.9 L133.0,443.9 L133.5,443.9 L134.0,443.9 L134.5,443.9 L135.0,443.9 L135.5,443.9 L136.0,443.9 L136.5,443.9 L137.0,443.9 L137.5,443.9 L138.0,443.9 L138.5,443.9 L139.0,443.9 L139.5,443.9 L140.0,443.9 L140.5,443.9 L141.0,443.9 L141.5,443.9 L142.0,443.9 L142.5,443.9 L143.0,443.9 L143.5,443.9 L144.0,443.9 L144.5,443.9 L145.0,443.9 L145.5,443.9 L146.0,443.9 L146.5,443.9 L147.0,443.9 L147.5,443.9 L148.0,443.9 L148.5,443.9 L149.0,443.9 L149.5,443.9 L150.0,443.9 L150.5,443.9 L151.0,443.9 L151.5,443.9 L152.0,443.9 L152.5,443.9 L153.0,443.9 L153.5,443.9 L154.0,443.9 L154.5,443.9 L155.0,443.9 L155.5,443.9 L156.0,443.9 L156.5,443.9 L157.0,443.9 L157.5,443.9 L158.0,443.9 L158.5,443.9 L159.0,443.9 L159.5,443.9 L160.0,443.9 L160.5,443.9 L161.0,443.9 L161.5,443.9 L162.0,443.9 L162.5,443.9 L163.0,443.9 L163.5,443.9 L164.0,443.9 L164.5,443.9 L165.0,443.9 L165.5,443.9 L166.0,443.9 L166.5,443.9 L167.0,443.9 L167.5,443.9 L168.0,443.9 L168.5,443.9 L169.0,443.9 L169.5,443.9 L170.0,443.9 L170.5,443.9 L171.0,443.9 L171.5,443.9 L172.0,443.9 L172.5,443.9 L173.0,443.9 L173.5,443.9 L174.0,443.9 L174.5,443.9 L175.0,443.9 L175.5,443.9 L176.0,443.9 L176.5,443.9 L177.0,443.9 L177.5,443.9 L178.0,443.9 L178.5,443.9 L179.0,443.9 L179.5,443.9 L180.0,443.9 L180.5,443.9 L181.0,443.9 L181.5,443.9 L182.0,443.9 L182.5,443.9 L183.0,443.9 L183.5,443.9 L184.0,443.9 L184.5,443.9 L185.0,443.9 L185.5,443.9 L186.0,443.9 L186.5,443.9 L187.0,443.9 L187.5,443.9 L188.0,443.9 L188.5,443.9 L189.0,443.9 L189.5,443.9 L190.0,443.9 L190.5,443.9 L191.0,443.9 L191.5,443.9 L192.0,443.9 L192.5,443.9 L193.0,443.9 L193.5,443.9 L194.0,443.9 L194.5,443.9 L195.0,443.9 L195.5,443.9 L196.0,443.9 L196.5,443.9 L197.0,443.9 L197.5,443.9 L198.0,443.9 L198.5,443.9 L199.0,443.9 L199.5,443.9 L200.0,443.9 L200.5,443.9 L201.0,443.9 L201.5,443.9 L202.0,443.9 L202.5,443.9 L203.0,443.9 L203.5,443.9 L204.0,443.9 L204.5,443.9 L205.0,443.9 L205.5,443.9 L206.0,443.9 L206.5,443.9 L207.0,443.9 L207.5,443.9 L208.0,443.9 L208.5,443.9 L209.0,443.9 L209.5,443.9 L210.0,443.9 L210.5,443.9 L211.0,443.9 L211.5,443.9 L212.0,443.9 L212.5,443.9 L213.0,443.9 L213.5,443.9 L214.0,443.9 L214.5,443.9 L215.0,443.9 L215.5,443.9 L216.0,443.9 L216.5,443.9 L217.0,443.9 L217.5,443.9 L218.0,443.9 L218.5,443.9 L219.0,443.9 L219.5,443.9 L220.0,443.9 L220.5,443.9 L221.0,443.9 L221.5,443.9 L222.0,443.9 L222.5,443.9 L223.0,443.9 L223.5,443.9 L224.0,443.9 L224.5,443.9 L225.0,443.9 L225.5,443.9 L226.0,443.9 L226.5,443.9 L227.0,443.9 L227.5,443.9 L228.0,443.9 L228.5,443.9 L229.0,443.9 L229.5,443.9 L230.0,443.8 L230.5,443.8 L231.0,443.8 L231.5,443.8 L232.0,443.7 L232.5,443.7 L233.0,443.6 L233.5,443.6 L234.0,443.5 L234.5,443.4 L235.0,443.4 L235.5,443.3 L236.0,443.3 L236.5,443.2 L237.0,443.1 L237.5,443.0 L238.0,443.0 L238.5,442.9 L239.0,442.8 L239.5,442.8 L240.0,442.7 L240.5,442.6 L241.0,442.6 L241.5,442.5 L242.0,442.4 L242.5,442.3 L243.0,442.2 L243.5,442.1 L244.0,442.0 L244.5,441.9 L245.0,441.8 L245.5,441.7 L246.0,441.6 L246.5,441.5 L247.0,441.4 L247.5,441.2 L248.0,441.1 L248.5,441.0 L249.0,440.9 L249.5,440.7 L250.0,440.6 L250.5,440.5 L251.0,440.3 L251.5,440.2 L252.0,440.0 L252.5,439.9 L253.0,439.7 L253.5,439.6 L254.0,439.4 L254.5,439.2 L255.0,439.0 L255.5,438.9 L256.0,438.7 L256.5,438.5 L257.0,438.3 L257.5,438.1 L258.0,437.9 L258.5,437.7 L259.0,437.5 L259.5,437.3 L260.0,437.1 L260.5,436.9 L261.0,436.7 L261.5,436.4 L262.0,436.2 L262.5,436.0 L263.0,435.7 L263.5,435.5 L264.0,435.3 L264.5,435.0 L265.0,434.7 L265.5,434.5 L266.0,434.2 L266.5,433.9 L267.0,433.7 L267.5,433.4 L268.0,433.1 L268.5,432.8 L269.0,432.6 L269.5,432.3 L270.0,432.0 L270.5,431.7 L271.0,431.4 L271.5,431.1 L272.0,430.8 L272.5,430.5 L273.0,430.2 L273.5,429.9 L274.0,429.6 L274.5,429.3 L275.0,429.0 L275.5,428.7 L276.0,428.4 L276.5,428.0 L277.0,427.7 L277.5,427.4 L278.0,427.0 L278.5,426.7 L279.0,426.3 L279.5,426.0 L280.0,425.6 L280.5,425.2 L281.0,424.8 L281.5,424.5 L282.0,424.1 L282.5,423.7 L283.0,423.2 L283.5,422.8 L284.0,422.4 L284.5,422.0 L285.0,421.5 L285.5,421.1 L286.0,420.7 L286.5,420.2 L287.0,419.8 L287.5,419.3 L288.0,418.8 L288.5,418.4 L289.0,417.9 L289.5,417.5 L290.0,417.0 L290.5,416.5 L291.0,416.1 L291.5,415.6 L292.0,415.1 L292.5,414.7 L293.0,414.2 L293.5,413.7 L294.0,413.2 L294.5,412.7 L295.0,412.3 L295.5,411.8 L296.0,411.3 L296.5,410.8 L297.0,410.2 L297.5,409.7 L298.0,409.2 L298.5,408.7 L299.0,408.1 L299.5,407.6 L300.0,407.0 L300.5,406.4 L301.0,405.8 L301.5,405.3 L302.0,404.7 L302.5,404.1 L303.0,403.4 L303.5,402.8 L304.0,402.2 L304.5,401.5 L305.0,400.9 L305.5,400.2 L306.0,399.6 L306.5,398.9 L307.0,398.2 L307.5,397.5 L308.0,396.8 L308.5,396.1 L309.0,395.4 L309.5,394.7 L310.0,394.0 L310.5,393.3 L311.0,392.5 L311.5,391.8 L312.0,391.1 L312.5,390.3 L313.0,389.5 L313.5,388.8 L314.0,388.0 L314.5,387.2 L315.0,386.4 L315.5,385.6 L316.0,384.8 L316.5,383.9 L317.0,383.1 L317.5,382.3 L318.0,381.4 L318.5,380.6 L319.0,379.7 L319.5,378.9 L320.0,378.0 L320.5,377.1 L321.0,376.3 L321.5,375.4 L322.0,374.5 L322.5,373.6 L323.0,372.7 L323.5,371.8 L324.0,370.9 L324.5,370.0 L325.0,369.0 L325.5,368.1 L326.0,367.1 L326.5,366.2 L327.0,365.2 L327.5,364.2 L328.0,363.2 L328.5,362.2 L329.0,361.1 L329.5,360.1 L330.0,359.0 L330.5,357.9 L331.0,356.8 L331.5,355.6 L332.0,354.4 L332.5,353.2 L333.0,352.0 L333.5,350.7 L334.0,349.4 L334.5,348.2 L335.0,346.9 L335.5,345.6 L336.0,344.2 L336.5,342.9 L337.0,341.6 L337.5,340.3 L338.0,339.0 L338.5,337.7 L339.0,336.4 L339.5,335.2 L340.0,333.9 L340.5,332.6 L341.0,331.4 L341.5,330.1 L342.0,328.8 L342.5,327.4 L343.0,326.0 L343.5,324.6 L344.0,323.1 L344.5,321.6 L345.0,320.0 L345.5,318.3 L346.0,316.6 L346.5,314.7 L347.0,312.8 L347.5,310.8 L348.0,308.8 L348.5,306.6 L349.0,304.5 L349.5,302.3 L350.0,300.0 L350.5,297.6 L351.0,295.0 L351.5,292.2 L352.0,289.4 L352.5,286.6 L353.0,283.9 L353.5,281.3 L354.0,279.0 L354.5,276.8 L355.0,274.6 L355.5,272.5 L356.0,270.5 L356.5,268.6 L357.0,266.9 L357.5,265.3 L358.0,264.0 L358.5,262.8 L359.0,261.8 L359.5,260.8 L360.0,259.9 L360.5,259.2 L361.0,258.6 L361.5,259.3 L362.0,260.1 L362.5,261.1 L363.0,262.3 L363.5,263.6 L364.0,265.0 L364.5,266.6 L365.0,268.4 L365.5,270.4 L366.0,272.6 L366.5,275.1 L367.0,277.7 L367.5,280.4 L367.6,281.0 L367.7,280.4 L368.2,277.7 L368.7,275.1 L369.2,272.6 L369.7,270.4 L370.2,268.4 L370.7,266.6 L371.2,265.0 L371.7,263.6 L372.2,262.3 L372.7,261.1 L373.2,260.1 L373.7,259.3 L374.2,258.6 L374.7,259.2 L375.2,259.9 L375.7,260.8 L376.2,261.8 L376.7,262.8 L377.2,264.0 L377.7,265.3 L378.2,266.9 L378.7,268.6 L379.2,270.5 L379.7,272.5 L380.2,274.6 L380.7,276.8 L381.2,279.0 L381.7,281.3 L382.2,283.9 L382.7,286.6 L383.2,289.4 L383.7,292.2 L384.2,295.0 L384.7,297.6 L385.2,300.0 L385.7,302.3 L386.2,304.5 L386.7,306.6 L387.2,308.8 L387.7,310.8 L388.2,312.8 L388.7,314.7 L389.2,316.6 L389.7,318.3 L390.2,320.0 L390.7,321.6 L391.2,323.1 L391.7,324.6 L392.2,326.0 L392.7,327.4 L393.2,328.8 L393.7,330.1 L394.2,331.4 L394.7,332.6 L395.2,333.9 L395.7,335.2 L396.2,336.4 L396.7,337.7 L397.2,339.0 L397.7,340.3 L398.2,341.6 L398.7,342.9 L399.2,344.2 L399.7,345.6 L400.2,346.9 L400.7,348.2 L401.2,349.4 L401.7,350.7 L402.2,352.0 L402.7,353.2 L403.2,354.4 L403.7,355.6 L404.2,356.8 L404.7,357.9 L405.2,359.0 L405.7,360.1 L406.2,361.1 L406.7,362.2 L407.2,363.2 L407.7,364.2 L408.2,365.2 L408.7,366.2 L409.2,367.1 L409.7,368.1 L410.2,369.0 L410.7,370.0 L411.2,370.9 L411.7,371.8 L412.2,372.7 L412.7,373.6 L413.2,374.5 L413.7,375.4 L414.2,376.3 L414.7,377.1 L415.2,378.0 L415.7,378.9 L416.2,379.7 L416.7,380.6 L417.2,381.4 L417.7,382.3 L418.2,383.1 L418.7,383.9 L419.2,384.8 L419.7,385.6 L420.2,386.4 L420.7,387.2 L421.2,388.0 L421.7,388.8 L422.2,389.5 L422.7,390.3 L423.2,391.1 L423.7,391.8 L424.2,392.5 L424.7,393.3 L425.2,394.0 L425.7,394.7 L426.2,395.4 L426.7,396.1 L427.2,396.8 L427.7,397.5 L428.2,398.2 L428.7,398.9 L429.2,399.6 L429.7,400.2 L430.2,400.9 L430.7,401.5 L431.2,402.2 L431.7,402.8 L432.2,403.4 L432.7,404.1 L433.2,404.7 L433.7,405.3 L434.2,405.8 L434.7,406.4 L435.2,407.0 L435.7,407.6 L436.2,408.1 L436.7,408.7 L437.2,409.2 L437.7,409.7 L438.2,410.2 L438.7,410.8 L439.2,411.3 L439.7,411.8 L440.2,412.3 L440.7,412.7 L441.2,413.2 L441.7,413.7 L442.2,414.2 L442.7,414.7 L443.2,415.1 L443.7,415.6 L444.2,416.1 L444.7,416.5 L445.2,417.0 L445.7,417.5 L446.2,417.9 L446.7,418.4 L447.2,418.8 L447.7,419.3 L448.2,419.8 L448.7,420.2 L449.2,420.7 L449.7,421.1 L450.2,421.5 L450.7,422.0 L451.2,422.4 L451.7,422.8 L452.2,423.2 L452.7,423.7 L453.2,424.1 L453.7,424.5 L454.2,424.8 L454.7,425.2 L455.2,425.6 L455.7,426.0 L456.2,426.3 L456.7,426.7 L457.2,427.0 L457.7,427.4 L458.2,427.7 L458.7,428.0 L459.2,428.4 L459.7,428.7 L460.2,429.0 L460.7,429.3 L461.2,429.6 L461.7,429.9 L462.2,430.2 L462.7,430.5 L463.2,430.8 L463.7,431.1 L464.2,431.4 L464.7,431.7 L465.2,432.0 L465.7,432.3 L466.2,432.6 L466.7,432.8 L467.2,433.1 L467.7,433.4 L468.2,433.7 L468.7,433.9 L469.2,434.2 L469.7,434.5 L470.2,434.7 L470.7,435.0 L471.2,435.3 L471.7,435.5 L472.2,435.7 L472.7,436.0 L473.2,436.2 L473.7,436.4 L474.2,436.7 L474.7,436.9 L475.2,437.1 L475.7,437.3 L476.2,437.5 L476.7,437.7 L477.2,437.9 L477.7,438.1 L478.2,438.3 L478.7,438.5 L479.2,438.7 L479.7,438.9 L480.2,439.0 L480.7,439.2 L481.2,439.4 L481.7,439.6 L482.2,439.7 L482.7,439.9 L483.2,440.0 L483.7,440.2 L484.2,440.3 L484.7,440.5 L485.2,440.6 L485.7,440.7 L486.2,440.9 L486.7,441.0 L487.2,441.1 L487.7,441.2 L488.2,441.4 L488.7,441.5 L489.2,441.6 L489.7,441.7 L490.2,441.8 L490.7,441.9 L491.2,442.0 L491.7,442.1 L492.2,442.2 L492.7,442.3 L493.2,442.4 L493.7,442.5 L494.2,442.6 L494.7,442.6 L495.2,442.7 L495.7,442.8 L496.2,442.8 L496.7,442.9 L497.2,443.0 L497.7,443.0 L498.2,443.1 L498.7,443.2 L499.2,443.3 L499.7,443.3 L500.2,443.4 L500.7,443.4 L501.2,443.5 L501.7,443.6 L502.2,443.6 L502.7,443.7 L503.2,443.7 L503.7,443.8 L504.2,443.8 L504.7,443.8 L505.2,443.8 L505.7,443.9 L506.2,443.9 L506.7,443.9 L507.2,443.9 L507.7,443.9 L508.2,443.9 L508.7,443.9 L509.2,443.9 L509.7,443.9 L510.2,443.9 L510.7,443.9 L511.2,443.9 L511.7,443.9 L512.2,443.9 L512.7,443.9 L513.2,443.9 L513.7,443.9 L514.2,443.9 L514.7,443.9 L515.2,443.9 L515.7,443.9 L516.2,443.9 L516.7,443.9 L517.2,443.9 L517.7,443.9 L518.2,443.9 L518.7,443.9 L519.2,443.9 L519.7,443.9 L520.2,443.9 L520.7,443.9 L521.2,443.9 L521.7,443.9 L522.2,443.9 L522.7,443.9 L523.2,443.9 L523.7,443.9 L524.2,443.9 L524.7,443.9 L525.2,443.9 L525.7,443.9 L526.2,443.9 L526.7,443.9 L527.2,443.9 L527.7,443.9 L528.2,443.9 L528.7,443.9 L529.2,443.9 L529.7,443.9 L530.2,443.9 L530.7,443.9 L531.2,443.9 L531.7,443.9 L532.2,443.9 L532.7,443.9 L533.2,443.9 L533.7,443.9 L534.2,443.9 L534.7,443.9 L535.2,443.9 L535.7,443.9 L536.2,443.9 L536.7,443.9 L537.2,443.9 L537.7,443.9 L538.2,443.9 L538.7,443.9 L539.2,443.9 L539.7,443.9 L540.2,443.9 L540.7,443.9 L541.2,443.9 L541.7,443.9 L542.2,443.9 L542.7,443.9 L543.2,443.9 L543.7,443.9 L544.2,443.9 L544.7,443.9 L545.2,443.9 L545.7,443.9 L546.2,443.9 L546.7,443.9 L547.2,443.9 L547.7,443.9 L548.2,443.9 L548.7,443.9 L549.2,443.9 L549.7,443.9 L550.2,443.9 L550.7,443.9 L551.2,443.9 L551.7,443.9 L552.2,443.9 L552.7,443.9 L553.2,443.9 L553.7,443.9 L554.2,443.9 L554.7,443.9 L555.2,443.9 L555.7,443.9 L556.2,443.9 L556.7,443.9 L557.2,443.9 L557.7,443.9 L558.2,443.9 L558.7,443.9 L559.2,443.9 L559.7,443.9 L560.2,443.9 L560.7,443.9 L561.2,443.9 L561.7,443.9 L562.2,443.9 L562.7,443.9 L563.2,443.9 L563.7,443.9 L564.2,443.9 L564.7,443.9 L565.2,443.9 L565.7,443.9 L566.2,443.9 L566.7,443.9 L567.2,443.9 L567.7,443.9 L568.2,443.9 L568.7,443.9 L569.2,443.9 L569.7,443.9 L570.2,443.9 L570.7,443.9 L571.2,443.9 L571.7,443.9 L572.2,443.9 L572.7,443.9 L573.2,443.9 L573.7,443.9 L574.2,443.9 L574.7,443.9 L575.2,443.9 L575.7,443.9 L576.2,443.9 L576.7,443.9 L577.2,443.9 L577.7,443.9 L578.2,443.9 L578.7,443.9 L579.2,443.9 L579.7,443.9 L580.2,443.9 L580.7,443.9 L581.2,443.9 L581.7,443.9 L582.2,443.9 L582.7,443.9 L583.2,443.9 L583.7,443.9 L584.2,443.9 L584.7,443.9 L585.2,443.9 L585.7,443.9 L586.2,443.9 L586.7,443.9 L587.2,443.9 L587.7,443.9 L588.2,443.9 L588.7,443.9 L589.2,443.9 L589.7,443.9 L590.2,443.9 L590.7,443.9 L591.2,443.9 L591.7,443.9 L592.2,443.9 L592.7,443.9 L593.2,443.9 L593.7,443.9 L594.2,443.9 L594.7,443.9 L595.2,443.9 L595.7,443.9 L596.2,443.9 L596.7,443.9 L597.2,443.9 L597.7,443.9 L598.2,443.9 L598.7,443.9 L599.2,443.9 L599.7,443.9 L600.2,443.9 L600.7,443.9 L601.2,443.9 L601.7,443.9 L602.2,443.9 L602.7,443.9 L603.2,443.9 L603.7,443.9 L604.2,443.9 L604.7,443.9 L605.2,443.9 L605.7,443.9 L606.2,443.9 L606.7,443.9 L607.2,443.9 L607.7,443.9 L608.2,443.9 L608.7,443.9 L609.2,443.9 L609.7,443.9 L610.2,443.9 L610.7,443.9 L611.2,443.9 L611.7,443.9 L612.2,443.9 L612.7,443.9 L613.2,443.9 L613.7,443.9 L614.2,443.9 L614.7,443.9 L615.2,443.9 L615.7,443.9 L616.2,443.9 L616.7,443.9 L617.2,443.9" stroke="#1A6FDF"/>
<polyline points="119.2,443.9 122.2,443.9 125.1,443.9 128.0,443.9 130.9,443.9 133.8,443.9 136.8,443.9 139.7,443.9 142.6,443.9 145.5,443.9 148.5,443.9 151.4,443.9 154.3,443.9 157.2,443.9 160.1,443.9 163.1,443.9 166.0,443.9 168.9,443.9 171.8,443.9 174.7,443.9 177.7,443.9 180.6,443.9 183.5,443.9 186.4,443.9 189.4,443.9 192.3,443.9 195.2,443.9 198.1,443.9 201.0,443.9 204.0,443.9 206.9,443.9 209.8,443.9 212.7,443.9 215.7,443.9 218.6,443.9 221.5,443.9 224.4,443.9 227.3,443.9 230.3,443.8 233.2,443.6 236.1,443.2 239.0,442.8 242.0,442.4 244.9,441.8 247.8,441.2 250.7,440.4 253.6,439.5 256.6,438.5 259.5,437.3 262.4,436.0 265.3,434.6 268.3,433.0 271.2,431.3 274.1,429.6 277.0,427.7 279.9,425.6 282.9,423.4 285.8,420.8 288.7,418.2 291.6,415.5 294.6,412.7 297.5,409.7 300.4,406.6 303.3,403.0 306.2,399.2 309.2,395.2 312.1,390.9 315.0,386.4 317.9,381.6 320.8,376.5 323.8,371.3 326.7,365.8 329.6,359.8 332.5,353.1 335.5,345.7 338.4,338.0 341.3,330.6 344.2,322.4 347.1,312.2 350.1,299.7 353.0,283.9 355.9,270.9 358.8,262.1 361.8,259.7 364.7,267.2 367.6,281.0 370.5,267.2 373.4,259.7 376.4,262.1 379.3,270.9 382.2,283.9 385.1,299.7 388.1,312.2 391.0,322.4 393.9,330.6 396.8,338.0 399.7,345.7 402.7,353.1 405.6,359.8 408.5,365.8 411.4,371.3 414.4,376.5 417.3,381.6 420.2,386.4 423.1,390.9 426.0,395.2 429.0,399.2 431.9,403.0 434.8,406.6 437.7,409.7 440.7,412.7 443.6,415.5 446.5,418.2 449.4,420.8 452.3,423.4 455.3,425.6 458.2,427.7 461.1,429.6 464.0,431.3 466.9,433.0 469.9,434.6 472.8,436.0 475.7,437.3 478.6,438.5 481.6,439.5 484.5,440.4 487.4,441.2 490.3,441.8 493.2,442.4 496.2,442.8 499.1,443.2 502.0,443.6 504.9,443.8 507.9,443.9 510.8,443.9 513.7,443.9 516.6,443.9 519.5,443.9 522.5,443.9 525.4,443.9 528.3,443.9 531.2,443.9 534.2,443.9 537.1,443.9 540.0,443.9 542.9,443.9 545.8,443.9 548.8,443.9 551.7,443.9 554.6,443.9 557.5,443.9 560.5,443.9 563.4,443.9 566.3,443.9 569.2,443.9 572.1,443.9 575.1,443.9 578.0,443.9 580.9,443.9 583.8,443.9 586.8,443.9 589.7,443.9 592.6,443.9 595.5,443.9 598.4,443.9 601.4,443.9 604.3,443.9 607.2,443.9 610.1,443.9 613.0,443.9 616.0,443.9" stroke="none" marker-start="url(#mblue)" marker-mid="url(#mblue)" marker-end="url(#mblue)"/>
<path d="M118.0,442.9 L118.5,442.9 L119.0,442.9 L119.5,442.9 L120.0,442.9 L120.5,442.9 L121.0,442.9 L121.5,442.9 L122.0,442.9 L122.5,442.9 L123.0,442.9 L123.5,442.9 L124.0,442.9 L124.5,442.9 L125.0,442.9 L125.5,442.9 L126.0,442.9 L126.5,442.9 L127.0,442.9 L127.5,442.9 L128.0,442.9 L128.5,442.9 L129.0,442.9 L129.5,442.9 L130.0,442.9 L130.5,442.9 L131.0,442.9 L131.5,442.9 L132.0,442.9 L132.5,442.9 L133.0,442.9 L133.5,442.9 L134.0,442.9 L134.5,442.9 L135.0,442.9 L135.5,442.9 L136.0,442.9 L136.5,442.9 L137.0,442.9 L137.5,442.9 L138.0,442.9 L138.5,442.9 L139.0,442.9 L139.5,442.9 L140.0,442.9 L140.5,442.9 L141.0,442.9 L141.5,442.9 L142.0,442.9 L142.5,442.9 L143.0,442.9 L143.5,442.9 L144.0,442.9 L144.5,442.9 L145.0,442.9 L145.5,442.9 L146.0,442.9 L146.5,442.9 L147.0,442.9 L147.5,442.9 L148.0,442.9 L148.5,442.9 L149.0,442.9 L149.5,442.9 L150.0,442.9 L150.5,442.9 L151.0,442.9 L151.5,442.9 L152.0,442.9 L152.5,442.8 L153.0,442.8 L153.5,442.7 L154.0,442.7 L154.5,442.6 L155.0,442.5 L155.5,442.4 L156.0,442.3 L156.5,442.2 L157.0,442.1 L157.5,442.0 L158.0,441.9 L158.5,441.8 L159.0,441.7 L159.5,441.6 L160.0,441.4 L160.5,441.3 L161.0,441.2 L161.5,441.0 L162.0,440.9 L162.5,440.7 L163.0,440.6 L163.5,440.4 L164.0,440.3 L164.5,440.1 L165.0,440.0 L165.5,439.8 L166.0,439.7 L166.5,439.5 L167.0,439.4 L167.5,439.2 L168.0,439.1 L168.5,438.9 L169.0,438.8 L169.5,438.6 L170.0,438.5 L170.5,438.3 L171.0,438.2 L171.5,438.0 L172.0,437.9 L172.5,437.7 L173.0,437.6 L173.5,437.4 L174.0,437.2 L174.5,437.0 L175.0,436.9 L175.5,436.7 L176.0,436.5 L176.5,436.3 L177.0,436.1 L177.5,436.0 L178.0,435.8 L178.5,435.6 L179.0,435.4 L179.5,435.2 L180.0,435.0 L180.5,434.8 L181.0,434.5 L181.5,434.3 L182.0,434.1 L182.5,433.9 L183.0,433.7 L183.5,433.5 L184.0,433.3 L184.5,433.0 L185.0,432.8 L185.5,432.6 L186.0,432.4 L186.5,432.1 L187.0,431.9 L187.5,431.7 L188.0,431.4 L188.5,431.2 L189.0,431.0 L189.5,430.7 L190.0,430.5 L190.5,430.3 L191.0,430.0 L191.5,429.8 L192.0,429.5 L192.5,429.3 L193.0,429.0 L193.5,428.8 L194.0,428.5 L194.5,428.3 L195.0,428.0 L195.5,427.7 L196.0,427.4 L196.5,427.2 L197.0,426.9 L197.5,426.6 L198.0,426.3 L198.5,426.0 L199.0,425.8 L199.5,425.5 L200.0,425.2 L200.5,424.9 L201.0,424.6 L201.5,424.3 L202.0,424.0 L202.5,423.7 L203.0,423.4 L203.5,423.1 L204.0,422.8 L204.5,422.5 L205.0,422.1 L205.5,421.8 L206.0,421.5 L206.5,421.2 L207.0,420.9 L207.5,420.6 L208.0,420.2 L208.5,419.9 L209.0,419.6 L209.5,419.3 L210.0,419.0 L210.5,418.6 L211.0,418.3 L211.5,418.0 L212.0,417.6 L212.5,417.3 L213.0,416.9 L213.5,416.6 L214.0,416.2 L214.5,415.9 L215.0,415.5 L215.5,415.2 L216.0,414.8 L216.5,414.4 L217.0,414.1 L217.5,413.7 L218.0,413.3 L218.5,413.0 L219.0,412.6 L219.5,412.2 L220.0,411.8 L220.5,411.4 L221.0,411.0 L221.5,410.7 L222.0,410.3 L222.5,409.9 L223.0,409.5 L223.5,409.1 L224.0,408.7 L224.5,408.3 L225.0,407.9 L225.5,407.5 L226.0,407.1 L226.5,406.7 L227.0,406.3 L227.5,405.9 L228.0,405.4 L228.5,405.0 L229.0,404.6 L229.5,404.2 L230.0,403.8 L230.5,403.3 L231.0,402.9 L231.5,402.5 L232.0,402.0 L232.5,401.6 L233.0,401.1 L233.5,400.7 L234.0,400.3 L234.5,399.8 L235.0,399.4 L235.5,398.9 L236.0,398.5 L236.5,398.0 L237.0,397.5 L237.5,397.1 L238.0,396.6 L238.5,396.2 L239.0,395.7 L239.5,395.2 L240.0,394.8 L240.5,394.3 L241.0,393.8 L241.5,393.3 L242.0,392.8 L242.5,392.4 L243.0,391.9 L243.5,391.4 L244.0,390.9 L244.5,390.4 L245.0,389.9 L245.5,389.4 L246.0,388.9 L246.5,388.4 L247.0,387.9 L247.5,387.4 L248.0,386.9 L248.5,386.4 L249.0,385.8 L249.5,385.3 L250.0,384.8 L250.5,384.3 L251.0,383.8 L251.5,383.3 L252.0,382.7 L252.5,382.2 L253.0,381.7 L253.5,381.1 L254.0,380.6 L254.5,380.0 L255.0,379.5 L255.5,379.0 L256.0,378.4 L256.5,377.9 L257.0,377.3 L257.5,376.7 L258.0,376.2 L258.5,375.6 L259.0,375.1 L259.5,374.5 L260.0,373.9 L260.5,373.4 L261.0,372.8 L261.5,372.2 L262.0,371.6 L262.5,371.1 L263.0,370.5 L263.5,369.9 L264.0,369.3 L264.5,368.7 L265.0,368.1 L265.5,367.5 L266.0,366.9 L266.5,366.3 L267.0,365.7 L267.5,365.1 L268.0,364.5 L268.5,363.9 L269.0,363.3 L269.5,362.7 L270.0,362.1 L270.5,361.5 L271.0,360.9 L271.5,360.3 L272.0,359.7 L272.5,359.0 L273.0,358.4 L273.5,357.8 L274.0,357.2 L274.5,356.5 L275.0,355.9 L275.5,355.3 L276.0,354.6 L276.5,354.0 L277.0,353.4 L277.5,352.7 L278.0,352.1 L278.5,351.4 L279.0,350.8 L279.5,350.1 L280.0,349.5 L280.5,348.8 L281.0,348.2 L281.5,347.5 L282.0,346.9 L282.5,346.2 L283.0,345.6 L283.5,344.9 L284.0,344.3 L284.5,343.6 L285.0,342.9 L285.5,342.3 L286.0,341.6 L286.5,340.9 L287.0,340.3 L287.5,339.6 L288.0,338.9 L288.5,338.2 L289.0,337.6 L289.5,336.9 L290.0,336.2 L290.5,335.5 L291.0,334.9 L291.5,334.2 L292.0,333.5 L292.5,332.8 L293.0,332.1 L293.5,331.5 L294.0,330.8 L294.5,330.1 L295.0,329.4 L295.5,328.7 L296.0,328.0 L296.5,327.3 L297.0,326.6 L297.5,325.9 L298.0,325.2 L298.5,324.5 L299.0,323.8 L299.5,323.1 L300.0,322.4 L300.5,321.8 L301.0,321.1 L301.5,320.4 L302.0,319.6 L302.5,318.9 L303.0,318.2 L303.5,317.5 L304.0,316.8 L304.5,316.1 L305.0,315.4 L305.5,314.7 L306.0,314.0 L306.5,313.3 L307.0,312.6 L307.5,311.9 L308.0,311.2 L308.5,310.5 L309.0,309.7 L309.5,309.0 L310.0,308.3 L310.4,307.8 L310.5,307.6 L311.0,306.9 L311.5,306.2 L312.0,305.5 L312.5,304.8 L313.0,304.0 L313.5,303.3 L314.0,302.6 L314.5,301.9 L315.0,301.2 L315.5,300.5 L316.0,299.7 L316.5,299.0 L317.0,298.3 L317.5,297.6 L318.0,296.9 L318.5,296.1 L319.0,295.4 L319.5,294.7 L320.0,294.0 L320.5,293.3 L320.8,292.8 L321.0,292.6 L321.5,291.8 L322.0,291.1 L322.5,290.4 L323.0,289.7 L323.5,289.0 L324.0,288.3 L324.5,287.6 L325.0,286.9 L325.5,286.2 L326.0,285.5 L326.5,284.8 L327.0,284.1 L327.5,283.4 L328.0,282.7 L328.5,281.9 L329.0,281.2 L329.5,280.5 L330.0,279.7 L330.5,279.0 L331.0,278.2 L331.2,277.9 L331.5,277.4 L332.0,276.7 L332.5,275.9 L333.0,275.1 L333.5,274.4 L334.0,273.6 L334.5,272.8 L335.0,272.0 L335.5,271.2 L336.0,270.4 L336.5,269.6 L337.0,268.8 L337.5,268.0 L338.0,267.1 L338.5,266.3 L339.0,265.4 L339.5,264.5 L340.0,263.7 L340.5,262.8 L341.0,261.8 L341.5,260.9 L342.0,259.9 L342.5,259.0 L343.0,258.0 L343.5,257.0 L344.0,256.0 L344.5,254.9 L345.0,253.8 L345.5,252.7 L346.0,251.6 L346.5,250.5 L347.0,249.3 L347.5,248.1 L347.8,247.4 L348.0,246.9 L348.5,245.6 L349.0,244.3 L349.5,242.9 L350.0,241.5 L350.5,240.1 L351.0,238.6 L351.5,237.2 L352.0,235.7 L352.5,234.2 L353.0,232.8 L353.5,231.3 L354.0,229.7 L354.5,228.1 L355.0,226.6 L355.5,225.2 L356.0,224.0 L356.5,223.0 L357.0,222.0 L357.5,221.2 L358.0,220.4 L358.5,219.7 L358.8,219.4 L359.3,219.8 L359.8,220.7 L360.3,221.9 L360.8,223.4 L361.3,225.1 L361.8,227.0 L362.3,229.0 L362.8,231.4 L363.3,234.6 L363.8,238.3 L364.3,242.4 L364.8,246.6 L365.3,250.7 L365.4,251.5 L365.8,254.7 L366.3,258.9 L366.8,263.3 L367.3,267.8 L367.6,270.5 L367.9,267.8 L368.4,263.3 L368.9,258.9 L369.4,254.7 L369.8,251.5 L369.9,250.7 L370.4,246.6 L370.9,242.4 L371.4,238.3 L371.9,234.6 L372.4,231.4 L372.9,229.0 L373.4,227.0 L373.9,225.1 L374.4,223.4 L374.9,221.9 L375.4,220.7 L375.9,219.8 L376.4,219.4 L376.7,219.7 L377.2,220.4 L377.7,221.2 L378.2,222.0 L378.7,223.0 L379.2,224.0 L379.7,225.2 L380.2,226.6 L380.7,228.1 L381.2,229.7 L381.7,231.3 L382.2,232.8 L382.7,234.2 L383.2,235.7 L383.7,237.2 L384.2,238.6 L384.7,240.1 L385.2,241.5 L385.7,242.9 L386.2,244.3 L386.7,245.6 L387.2,246.9 L387.4,247.4 L387.7,248.1 L388.2,249.3 L388.7,250.5 L389.2,251.6 L389.7,252.7 L390.2,253.8 L390.7,254.9 L391.2,256.0 L391.7,257.0 L392.2,258.0 L392.7,259.0 L393.2,259.9 L393.7,260.9 L394.2,261.8 L394.7,262.8 L395.2,263.7 L395.7,264.5 L396.2,265.4 L396.7,266.3 L397.2,267.1 L397.7,268.0 L398.2,268.8 L398.7,269.6 L399.2,270.4 L399.7,271.2 L400.2,272.0 L400.7,272.8 L401.2,273.6 L401.7,274.4 L402.2,275.1 L402.7,275.9 L403.2,276.7 L403.7,277.4 L404.0,277.9 L404.2,278.2 L404.7,279.0 L405.2,279.7 L405.7,280.5 L406.2,281.2 L406.7,281.9 L407.2,282.7 L407.7,283.4 L408.2,284.1 L408.7,284.8 L409.2,285.5 L409.7,286.2 L410.2,286.9 L410.7,287.6 L411.2,288.3 L411.7,289.0 L412.2,289.7 L412.7,290.4 L413.2,291.1 L413.7,291.8 L414.2,292.6 L414.4,292.8 L414.7,293.3 L415.2,294.0 L415.7,294.7 L416.2,295.4 L416.7,296.1 L417.2,296.9 L417.7,297.6 L418.2,298.3 L418.7,299.0 L419.2,299.7 L419.7,300.5 L420.2,301.2 L420.7,301.9 L421.2,302.6 L421.7,303.3 L422.2,304.0 L422.7,304.8 L423.2,305.5 L423.7,306.2 L424.2,306.9 L424.7,307.6 L424.8,307.8 L425.2,308.3 L425.7,309.0 L426.2,309.7 L426.7,310.5 L427.2,311.2 L427.7,311.9 L428.2,312.6 L428.7,313.3 L429.2,314.0 L429.7,314.7 L430.2,315.4 L430.7,316.1 L431.2,316.8 L431.7,317.5 L432.2,318.2 L432.7,318.9 L433.2,319.6 L433.7,320.4 L434.2,321.1 L434.7,321.8 L435.2,322.4 L435.7,323.1 L436.2,323.8 L436.7,324.5 L437.2,325.2 L437.7,325.9 L438.2,326.6 L438.7,327.3 L439.2,328.0 L439.7,328.7 L440.2,329.4 L440.7,330.1 L441.2,330.8 L441.7,331.5 L442.2,332.1 L442.7,332.8 L443.2,333.5 L443.7,334.2 L444.2,334.9 L444.7,335.5 L445.2,336.2 L445.7,336.9 L446.2,337.6 L446.7,338.2 L447.2,338.9 L447.7,339.6 L448.2,340.3 L448.7,340.9 L449.2,341.6 L449.7,342.3 L450.2,342.9 L450.7,343.6 L451.2,344.3 L451.7,344.9 L452.2,345.6 L452.7,346.2 L453.2,346.9 L453.7,347.5 L454.2,348.2 L454.7,348.8 L455.2,349.5 L455.7,350.1 L456.2,350.8 L456.7,351.4 L457.2,352.1 L457.7,352.7 L458.2,353.4 L458.7,354.0 L459.2,354.6 L459.7,355.3 L460.2,355.9 L460.7,356.5 L461.2,357.2 L461.7,357.8 L462.2,358.4 L462.7,359.0 L463.2,359.7 L463.7,360.3 L464.2,360.9 L464.7,361.5 L465.2,362.1 L465.7,362.7 L466.2,363.3 L466.7,363.9 L467.2,364.5 L467.7,365.1 L468.2,365.7 L468.7,366.3 L469.2,366.9 L469.7,367.5 L470.2,368.1 L470.7,368.7 L471.2,369.3 L471.7,369.9 L472.2,370.5 L472.7,371.1 L473.2,371.6 L473.7,372.2 L474.2,372.8 L474.7,373.4 L475.2,373.9 L475.7,374.5 L476.2,375.1 L476.7,375.6 L477.2,376.2 L477.7,376.7 L478.2,377.3 L478.7,377.9 L479.2,378.4 L479.7,379.0 L480.2,379.5 L480.7,380.0 L481.2,380.6 L481.7,381.1 L482.2,381.7 L482.7,382.2 L483.2,382.7 L483.7,383.3 L484.2,383.8 L484.7,384.3 L485.2,384.8 L485.7,385.3 L486.2,385.8 L486.7,386.4 L487.2,386.9 L487.7,387.4 L488.2,387.9 L488.7,388.4 L489.2,388.9 L489.7,389.4 L490.2,389.9 L490.7,390.4 L491.2,390.9 L491.7,391.4 L492.2,391.9 L492.7,392.4 L493.2,392.8 L493.7,393.3 L494.2,393.8 L494.7,394.3 L495.2,394.8 L495.7,395.2 L496.2,395.7 L496.7,396.2 L497.2,396.6 L497.7,397.1 L498.2,397.5 L498.7,398.0 L499.2,398.5 L499.7,398.9 L500.2,399.4 L500.7,399.8 L501.2,400.3 L501.7,400.7 L502.2,401.1 L502.7,401.6 L503.2,402.0 L503.7,402.5 L504.2,402.9 L504.7,403.3 L505.2,403.8 L505.7,404.2 L506.2,404.6 L506.7,405.0 L507.2,405.4 L507.7,405.9 L508.2,406.3 L508.7,406.7 L509.2,407.1 L509.7,407.5 L510.2,407.9 L510.7,408.3 L511.2,408.7 L511.7,409.1 L512.2,409.5 L512.7,409.9 L513.2,410.3 L513.7,410.7 L514.2,411.0 L514.7,411.4 L515.2,411.8 L515.7,412.2 L516.2,412.6 L516.7,413.0 L517.2,413.3 L517.7,413.7 L518.2,414.1 L518.7,414.4 L519.2,414.8 L519.7,415.2 L520.2,415.5 L520.7,415.9 L521.2,416.2 L521.7,416.6 L522.2,416.9 L522.7,417.3 L523.2,417.6 L523.7,418.0 L524.2,418.3 L524.7,418.6 L525.2,419.0 L525.7,419.3 L526.2,419.6 L526.7,419.9 L527.2,420.2 L527.7,420.6 L528.2,420.9 L528.7,421.2 L529.2,421.5 L529.7,421.8 L530.2,422.1 L530.7,422.5 L531.2,422.8 L531.7,423.1 L532.2,423.4 L532.7,423.7 L533.2,424.0 L533.7,424.3 L534.2,424.6 L534.7,424.9 L535.2,425.2 L535.7,425.5 L536.2,425.8 L536.7,426.0 L537.2,426.3 L537.7,426.6 L538.2,426.9 L538.7,427.2 L539.2,427.4 L539.7,427.7 L540.2,428.0 L540.7,428.3 L541.2,428.5 L541.7,428.8 L542.2,429.0 L542.7,429.3 L543.2,429.5 L543.7,429.8 L544.2,430.0 L544.7,430.3 L545.2,430.5 L545.7,430.7 L546.2,431.0 L546.7,431.2 L547.2,431.4 L547.7,431.7 L548.2,431.9 L548.7,432.1 L549.2,432.4 L549.7,432.6 L550.2,432.8 L550.7,433.0 L551.2,433.3 L551.7,433.5 L552.2,433.7 L552.7,433.9 L553.2,434.1 L553.7,434.3 L554.2,434.5 L554.7,434.8 L555.2,435.0 L555.7,435.2 L556.2,435.4 L556.7,435.6 L557.2,435.8 L557.7,436.0 L558.2,436.1 L558.7,436.3 L559.2,436.5 L559.7,436.7 L560.2,436.9 L560.7,437.0 L561.2,437.2 L561.7,437.4 L562.2,437.6 L562.7,437.7 L563.2,437.9 L563.7,438.0 L564.2,438.2 L564.7,438.3 L565.2,438.5 L565.7,438.6 L566.2,438.8 L566.7,438.9 L567.2,439.1 L567.7,439.2 L568.2,439.4 L568.7,439.5 L569.2,439.7 L569.7,439.8 L570.2,440.0 L570.7,440.1 L571.2,440.3 L571.7,440.4 L572.2,440.6 L572.7,440.7 L573.2,440.9 L573.7,441.0 L574.2,441.2 L574.7,441.3 L575.2,441.4 L575.7,441.6 L576.2,441.7 L576.7,441.8 L577.2,441.9 L577.7,442.0 L578.2,442.1 L578.7,442.2 L579.2,442.3 L579.7,442.4 L580.2,442.5 L580.7,442.6 L581.2,442.7 L581.7,442.7 L582.2,442.8 L582.7,442.8 L583.2,442.9 L583.7,442.9 L584.2,442.9 L584.7,442.9 L585.2,442.9 L585.7,442.9 L586.2,442.9 L586.7,442.9 L587.2,442.9 L587.7,442.9 L588.2,442.9 L588.7,442.9 L589.2,442.9 L589.7,442.9 L590.2,442.9 L590.7,442.9 L591.2,442.9 L591.7,442.9 L592.2,442.9 L592.7,442.9 L593.2,442.9 L593.7,442.9 L594.2,442.9 L594.7,442.9 L595.2,442.9 L595.7,442.9 L596.2,442.9 L596.7,442.9 L597.2,442.9 L597.7,442.9 L598.2,442.9 L598.7,442.9 L599.2,442.9 L599.7,442.9 L600.2,442.9 L600.7,442.9 L601.2,442.9 L601.7,442.9 L602.2,442.9 L602.7,442.9 L603.2,442.9 L603.7,442.9 L604.2,442.9 L604.7,442.9 L605.2,442.9 L605.7,442.9 L606.2,442.9 L606.7,442.9 L607.2,442.9 L607.7,442.9 L608.2,442.9 L608.7,442.9 L609.2,442.9 L609.7,442.9 L610.2,442.9 L610.7,442.9 L611.2,442.9 L611.7,442.9 L612.2,442.9 L612.7,442.9 L613.2,442.9 L613.7,442.9 L614.2,442.9 L614.7,442.9 L615.2,442.9 L615.7,442.9 L616.2,442.9 L616.7,442.9 L617.2,442.9" stroke="#37AD6B"/>
<polyline points="119.2,442.9 122.2,442.9 125.1,442.9 128.0,442.9 130.9,442.9 133.8,442.9 136.8,442.9 139.7,442.9 142.6,442.9 145.5,442.9 148.5,442.9 151.4,442.9 154.3,442.6 157.2,442.1 160.1,441.4 163.1,440.6 166.0,439.7 168.9,438.8 171.8,437.9 174.7,437.0 177.7,435.9 180.6,434.7 183.5,433.5 186.4,432.2 189.4,430.8 192.3,429.4 195.2,427.9 198.1,426.3 201.0,424.6 204.0,422.8 206.9,421.0 209.8,419.1 212.7,417.1 215.7,415.1 218.6,412.9 221.5,410.7 224.4,408.4 227.3,406.0 230.3,403.5 233.2,401.0 236.1,398.4 239.0,395.7 242.0,392.9 244.9,390.0 247.8,387.1 250.7,384.1 253.6,381.0 256.6,377.8 259.5,374.5 262.4,371.2 265.3,367.7 268.3,364.2 271.2,360.7 274.1,357.0 277.0,353.3 279.9,349.6 282.9,345.8 285.8,341.9 288.7,338.0 291.6,334.0 294.6,330.0 297.5,326.0 300.4,321.9 303.3,317.8 306.2,313.7 309.2,309.5 312.1,305.4 315.0,301.2 317.9,297.0 320.8,292.8 323.8,288.6 326.7,284.5 329.6,280.3 332.5,275.8 335.5,271.3 338.4,266.5 341.3,261.3 344.2,255.5 347.1,249.0 350.1,241.3 353.0,232.8 355.9,224.2 358.8,219.4 361.8,226.8 364.7,245.6 367.6,270.5 370.5,245.6 373.4,226.8 376.4,219.4 379.3,224.2 382.2,232.8 385.1,241.3 388.1,249.0 391.0,255.5 393.9,261.3 396.8,266.5 399.7,271.3 402.7,275.8 405.6,280.3 408.5,284.5 411.4,288.6 414.4,292.8 417.3,297.0 420.2,301.2 423.1,305.4 426.0,309.5 429.0,313.7 431.9,317.8 434.8,321.9 437.7,326.0 440.7,330.0 443.6,334.0 446.5,338.0 449.4,341.9 452.3,345.8 455.3,349.6 458.2,353.3 461.1,357.0 464.0,360.7 466.9,364.2 469.9,367.7 472.8,371.2 475.7,374.5 478.6,377.8 481.6,381.0 484.5,384.1 487.4,387.1 490.3,390.0 493.2,392.9 496.2,395.7 499.1,398.4 502.0,401.0 504.9,403.5 507.9,406.0 510.8,408.4 513.7,410.7 516.6,412.9 519.5,415.1 522.5,417.1 525.4,419.1 528.3,421.0 531.2,422.8 534.2,424.6 537.1,426.3 540.0,427.9 542.9,429.4 545.8,430.8 548.8,432.2 551.7,433.5 554.6,434.7 557.5,435.9 560.5,437.0 563.4,437.9 566.3,438.8 569.2,439.7 572.1,440.6 575.1,441.4 578.0,442.1 580.9,442.6 583.8,442.9 586.8,442.9 589.7,442.9 592.6,442.9 595.5,442.9 598.4,442.9 601.4,442.9 604.3,442.9 607.2,442.9 610.1,442.9 613.0,442.9 616.0,442.9" stroke="none" marker-start="url(#mgreen)" marker-mid="url(#mgreen)" marker-end="url(#mgreen)"/>
<path d="M117.7,436.9 L118.2,436.8 L118.7,436.6 L119.2,436.4 L119.7,436.2 L120.2,436.0 L120.7,435.8 L121.2,435.6 L121.7,435.4 L122.2,435.2 L122.7,434.9 L123.2,434.7 L123.7,434.5 L124.2,434.2 L124.7,434.0 L125.2,433.7 L125.7,433.5 L126.2,433.2 L126.7,432.9 L127.2,432.7 L127.7,432.4 L128.2,432.1 L128.7,431.8 L129.2,431.5 L129.7,431.2 L130.0,431.1 L130.2,430.9 L130.7,430.6 L131.2,430.3 L131.7,430.0 L132.2,429.7 L132.7,429.3 L133.2,429.0 L133.7,428.6 L134.2,428.2 L134.7,427.9 L135.2,427.5 L135.7,427.1 L136.2,426.7 L136.7,426.3 L137.2,425.9 L137.7,425.5 L138.2,425.0 L138.7,424.6 L139.2,424.2 L139.7,423.8 L140.0,423.5 L140.2,423.3 L140.7,422.9 L141.2,422.5 L141.7,422.0 L142.2,421.6 L142.7,421.1 L143.2,420.6 L143.7,420.2 L144.2,419.7 L144.7,419.2 L145.2,418.7 L145.7,418.2 L146.2,417.7 L146.7,417.2 L147.2,416.7 L147.7,416.2 L148.2,415.6 L148.7,415.1 L149.2,414.6 L149.7,414.1 L150.0,413.7 L150.2,413.5 L150.7,413.0 L151.2,412.4 L151.7,411.9 L152.2,411.3 L152.7,410.8 L153.2,410.2 L153.7,409.6 L154.2,409.0 L154.7,408.5 L155.2,407.9 L155.7,407.3 L156.2,406.7 L156.7,406.1 L157.2,405.5 L157.7,404.8 L158.2,404.2 L158.7,403.6 L159.2,403.0 L159.7,402.4 L160.0,402.0 L160.2,401.7 L160.7,401.1 L161.2,400.5 L161.7,399.8 L162.2,399.2 L162.7,398.5 L163.2,397.9 L163.7,397.2 L164.2,396.5 L164.7,395.8 L165.2,395.2 L165.7,394.5 L166.2,393.8 L166.7,393.1 L167.2,392.4 L167.7,391.7 L168.2,391.0 L168.7,390.3 L169.2,389.6 L169.7,388.9 L170.0,388.5 L170.2,388.2 L170.7,387.5 L171.2,386.8 L171.7,386.1 L172.2,385.3 L172.7,384.6 L173.2,383.9 L173.7,383.1 L174.2,382.4 L174.7,381.6 L175.2,380.9 L175.7,380.1 L176.2,379.4 L176.7,378.6 L177.2,377.9 L177.7,377.1 L178.2,376.3 L178.7,375.6 L179.2,374.8 L179.7,374.0 L180.0,373.5 L180.2,373.2 L180.7,372.4 L181.2,371.7 L181.7,370.9 L182.2,370.1 L182.7,369.3 L183.2,368.5 L183.7,367.7 L184.2,366.9 L184.7,366.1 L185.2,365.3 L185.7,364.4 L186.2,363.6 L186.7,362.8 L187.2,362.0 L187.7,361.2 L188.2,360.3 L188.7,359.5 L189.2,358.7 L189.7,357.9 L190.0,357.4 L190.2,357.0 L190.7,356.2 L191.2,355.3 L191.7,354.5 L192.2,353.7 L192.7,352.8 L193.2,352.0 L193.7,351.1 L194.2,350.3 L194.7,349.4 L195.2,348.5 L195.7,347.7 L196.2,346.8 L196.7,346.0 L197.2,345.1 L197.7,344.2 L198.2,343.4 L198.6,342.7 L198.7,342.5 L199.2,341.6 L199.7,340.7 L200.2,339.9 L200.7,339.0 L201.2,338.1 L201.7,337.2 L202.2,336.3 L202.7,335.4 L203.2,334.6 L203.7,333.7 L204.2,332.8 L204.7,331.9 L205.2,331.0 L205.7,330.1 L206.2,329.2 L206.7,328.3 L207.2,327.4 L207.7,326.5 L208.2,325.6 L208.7,324.7 L209.2,323.8 L209.7,322.9 L210.0,322.4 L210.2,322.0 L210.7,321.1 L211.2,320.2 L211.7,319.3 L212.2,318.4 L212.7,317.5 L213.2,316.6 L213.7,315.7 L214.2,314.8 L214.7,313.8 L215.2,312.9 L215.7,312.0 L216.2,311.1 L216.7,310.2 L217.2,309.3 L217.7,308.4 L218.2,307.4 L218.7,306.5 L219.2,305.6 L219.7,304.7 L220.0,304.2 L220.2,303.8 L220.7,302.9 L221.2,302.0 L221.7,301.0 L222.2,300.1 L222.7,299.2 L223.2,298.3 L223.7,297.4 L224.2,296.5 L224.7,295.5 L225.2,294.6 L225.7,293.7 L226.2,292.8 L226.7,291.9 L227.2,291.0 L227.7,290.0 L228.2,289.1 L228.7,288.2 L229.2,287.3 L229.7,286.4 L230.0,285.8 L230.2,285.5 L230.7,284.6 L231.2,283.7 L231.7,282.8 L232.2,281.8 L232.7,280.9 L233.2,280.0 L233.7,279.1 L234.2,278.2 L234.7,277.3 L235.2,276.4 L235.7,275.5 L236.2,274.6 L236.7,273.7 L237.2,272.8 L237.7,271.9 L238.2,271.0 L238.7,270.1 L239.2,269.2 L239.7,268.3 L240.0,267.7 L240.2,267.4 L240.7,266.5 L241.2,265.6 L241.7,264.7 L242.2,263.8 L242.7,262.9 L243.2,262.0 L243.7,261.1 L244.2,260.3 L244.7,259.4 L245.2,258.5 L245.7,257.6 L246.2,256.7 L246.7,255.9 L247.2,255.0 L247.7,254.1 L248.2,253.2 L248.7,252.4 L249.2,251.5 L249.7,250.6 L250.0,250.1 L250.2,249.8 L250.7,248.9 L251.2,248.1 L251.7,247.2 L252.2,246.3 L252.7,245.5 L253.2,244.6 L253.7,243.8 L254.2,242.9 L254.7,242.1 L255.2,241.2 L255.7,240.4 L256.2,239.5 L256.7,238.7 L257.2,237.9 L257.7,237.0 L258.2,236.2 L258.7,235.4 L259.2,234.6 L259.7,233.8 L260.0,233.3 L260.2,233.0 L260.7,232.2 L261.2,231.4 L261.7,230.6 L262.2,229.8 L262.7,229.0 L263.2,228.2 L263.7,227.4 L264.2,226.7 L264.7,225.9 L265.2,225.1 L265.7,224.3 L266.2,223.6 L266.7,222.8 L267.2,222.1 L267.7,221.3 L268.2,220.5 L268.7,219.8 L269.2,219.0 L269.7,218.3 L270.2,217.5 L270.7,216.7 L271.2,216.0 L271.7,215.2 L272.2,214.5 L272.7,213.7 L272.9,213.4 L273.2,212.9 L273.7,212.2 L274.2,211.4 L274.7,210.6 L275.2,209.8 L275.7,209.0 L276.2,208.3 L276.7,207.5 L277.2,206.7 L277.7,206.0 L278.2,205.2 L278.7,204.5 L279.2,203.8 L279.7,203.1 L280.2,202.4 L280.7,201.7 L281.2,201.1 L281.7,200.5 L282.2,199.9 L282.7,199.2 L283.2,198.6 L283.7,198.0 L284.2,197.5 L284.7,196.9 L285.2,196.3 L285.7,195.7 L286.2,195.2 L286.7,194.6 L287.2,194.1 L287.7,193.6 L288.2,193.0 L288.7,192.5 L289.0,192.2 L289.2,192.0 L289.7,191.5 L290.2,191.0 L290.7,190.4 L291.2,189.9 L291.7,189.4 L292.2,188.9 L292.7,188.4 L293.2,187.9 L293.7,187.5 L294.2,187.0 L294.7,186.5 L295.2,186.0 L295.7,185.6 L296.2,185.1 L296.7,184.7 L297.2,184.3 L297.7,183.9 L298.2,183.5 L298.7,183.1 L299.2,182.7 L299.7,182.3 L300.2,182.0 L300.7,181.6 L301.2,181.2 L301.7,180.9 L302.2,180.6 L302.7,180.2 L303.2,179.9 L303.7,179.6 L304.2,179.3 L304.7,178.9 L305.2,178.7 L305.7,178.4 L306.2,178.1 L306.7,177.8 L307.2,177.6 L307.7,177.3 L308.0,177.2 L308.2,177.1 L308.7,176.9 L309.2,176.7 L309.7,176.4 L310.2,176.2 L310.7,176.0 L311.2,175.8 L311.7,175.6 L312.2,175.4 L312.7,175.2 L313.2,175.1 L313.7,174.9 L314.2,174.7 L314.7,174.6 L315.2,174.4 L315.7,174.3 L316.2,174.2 L316.7,174.1 L317.2,174.0 L317.7,173.9 L318.2,173.8 L318.7,173.7 L319.2,173.6 L319.7,173.6 L320.2,173.5 L320.7,173.4 L321.2,173.3 L321.7,173.3 L322.2,173.2 L322.7,173.2 L323.2,173.1 L323.7,173.1 L324.2,173.0 L324.7,173.0 L325.2,173.0 L325.5,173.0 L325.7,173.0 L326.2,173.0 L326.7,173.0 L327.2,173.0 L327.7,173.0 L328.2,173.1 L328.7,173.1 L329.2,173.1 L329.7,173.1 L330.2,173.2 L330.7,173.2 L331.2,173.2 L331.7,173.2 L332.2,173.3 L332.7,173.3 L333.2,173.3 L333.7,173.4 L334.2,173.4 L334.7,173.4 L335.2,173.5 L335.7,173.5 L336.2,173.6 L336.7,173.7 L337.2,173.7 L337.7,173.8 L338.2,173.9 L338.7,173.9 L339.2,174.0 L339.7,174.1 L340.2,174.1 L340.7,174.2 L341.2,174.2 L341.7,174.3 L342.2,174.3 L342.7,174.3 L343.0,174.3 L343.2,174.3 L343.7,174.3 L344.2,174.3 L344.7,174.2 L345.2,174.2 L345.7,174.1 L346.2,174.0 L346.7,174.0 L347.2,173.9 L347.7,173.8 L348.1,173.7 L348.2,173.7 L348.7,173.5 L349.2,173.2 L349.7,172.9 L350.2,172.5 L350.7,172.1 L351.2,171.7 L351.7,171.3 L352.2,171.0 L352.5,170.8 L352.7,170.7 L353.2,170.4 L353.7,170.1 L354.2,169.9 L354.7,169.6 L355.2,169.3 L355.7,169.1 L356.1,168.9 L356.6,169.0 L357.1,169.4 L357.6,169.9 L358.1,170.7 L358.6,171.6 L359.1,172.7 L359.3,173.2 L359.6,174.4 L360.1,177.9 L360.6,182.6 L361.1,187.6 L361.2,188.6 L361.6,192.6 L362.1,198.2 L362.6,204.0 L363.1,210.0 L363.4,213.4 L363.6,215.6 L364.1,221.3 L364.6,226.9 L365.1,232.5 L365.5,237.0 L365.6,238.1 L366.1,243.8 L366.6,249.5 L367.1,255.2 L367.6,261.0 L368.1,255.2 L368.6,249.5 L369.1,243.8 L369.6,238.1 L369.7,237.0 L370.1,232.5 L370.6,226.9 L371.1,221.3 L371.6,215.6 L371.8,213.4 L372.1,210.0 L372.6,204.0 L373.1,198.2 L373.6,192.6 L374.0,188.6 L374.1,187.6 L374.6,182.6 L375.1,177.9 L375.6,174.4 L375.9,173.2 L376.1,172.7 L376.6,171.6 L377.1,170.7 L377.6,169.9 L378.1,169.4 L378.6,169.0 L379.1,168.9 L379.5,169.1 L380.0,169.3 L380.5,169.6 L381.0,169.9 L381.5,170.1 L382.0,170.4 L382.5,170.7 L382.7,170.8 L383.0,171.0 L383.5,171.3 L384.0,171.7 L384.5,172.1 L385.0,172.5 L385.5,172.9 L386.0,173.2 L386.5,173.5 L387.0,173.7 L387.1,173.7 L387.5,173.8 L388.0,173.9 L388.5,174.0 L389.0,174.0 L389.5,174.1 L390.0,174.2 L390.5,174.2 L391.0,174.3 L391.5,174.3 L392.0,174.3 L392.2,174.3 L392.5,174.3 L393.0,174.3 L393.5,174.3 L394.0,174.2 L394.5,174.2 L395.0,174.1 L395.5,174.1 L396.0,174.0 L396.5,173.9 L397.0,173.9 L397.5,173.8 L398.0,173.7 L398.5,173.7 L399.0,173.6 L399.5,173.5 L400.0,173.5 L400.5,173.4 L401.0,173.4 L401.5,173.4 L402.0,173.3 L402.5,173.3 L403.0,173.3 L403.5,173.2 L404.0,173.2 L404.5,173.2 L405.0,173.2 L405.5,173.1 L406.0,173.1 L406.5,173.1 L407.0,173.1 L407.5,173.0 L408.0,173.0 L408.5,173.0 L409.0,173.0 L409.5,173.0 L409.7,173.0 L410.0,173.0 L410.5,173.0 L411.0,173.0 L411.5,173.1 L412.0,173.1 L412.5,173.2 L413.0,173.2 L413.5,173.3 L414.0,173.3 L414.5,173.4 L415.0,173.5 L415.5,173.6 L416.0,173.6 L416.5,173.7 L417.0,173.8 L417.5,173.9 L418.0,174.0 L418.5,174.1 L419.0,174.2 L419.5,174.3 L420.0,174.4 L420.5,174.6 L421.0,174.7 L421.5,174.9 L422.0,175.1 L422.5,175.2 L423.0,175.4 L423.5,175.6 L424.0,175.8 L424.5,176.0 L425.0,176.2 L425.5,176.4 L426.0,176.7 L426.5,176.9 L427.0,177.1 L427.2,177.2 L427.5,177.3 L428.0,177.6 L428.5,177.8 L429.0,178.1 L429.5,178.4 L430.0,178.7 L430.5,178.9 L431.0,179.3 L431.5,179.6 L432.0,179.9 L432.5,180.2 L433.0,180.6 L433.5,180.9 L434.0,181.2 L434.5,181.6 L435.0,182.0 L435.5,182.3 L436.0,182.7 L436.5,183.1 L437.0,183.5 L437.5,183.9 L438.0,184.3 L438.5,184.7 L439.0,185.1 L439.5,185.6 L440.0,186.0 L440.5,186.5 L441.0,187.0 L441.5,187.5 L442.0,187.9 L442.5,188.4 L443.0,188.9 L443.5,189.4 L444.0,189.9 L444.5,190.4 L445.0,191.0 L445.5,191.5 L446.0,192.0 L446.2,192.2 L446.5,192.5 L447.0,193.0 L447.5,193.6 L448.0,194.1 L448.5,194.6 L449.0,195.2 L449.5,195.7 L450.0,196.3 L450.5,196.9 L451.0,197.5 L451.5,198.0 L452.0,198.6 L452.5,199.2 L453.0,199.9 L453.5,200.5 L454.0,201.1 L454.5,201.7 L455.0,202.4 L455.5,203.1 L456.0,203.8 L456.5,204.5 L457.0,205.2 L457.5,206.0 L458.0,206.7 L458.5,207.5 L459.0,208.3 L459.5,209.0 L460.0,209.8 L460.5,210.6 L461.0,211.4 L461.5,212.2 L462.0,212.9 L462.3,213.4 L462.5,213.7 L463.0,214.5 L463.5,215.2 L464.0,216.0 L464.5,216.7 L465.0,217.5 L465.5,218.3 L466.0,219.0 L466.5,219.8 L467.0,220.5 L467.5,221.3 L468.0,222.1 L468.5,222.8 L469.0,223.6 L469.5,224.3 L470.0,225.1 L470.5,225.9 L471.0,226.7 L471.5,227.4 L472.0,228.2 L472.5,229.0 L473.0,229.8 L473.5,230.6 L474.0,231.4 L474.5,232.2 L475.0,233.0 L475.2,233.3 L475.5,233.8 L476.0,234.6 L476.5,235.4 L477.0,236.2 L477.5,237.0 L478.0,237.9 L478.5,238.7 L479.0,239.5 L479.5,240.4 L480.0,241.2 L480.5,242.1 L481.0,242.9 L481.5,243.8 L482.0,244.6 L482.5,245.5 L483.0,246.3 L483.5,247.2 L484.0,248.1 L484.5,248.9 L485.0,249.8 L485.2,250.1 L485.5,250.6 L486.0,251.5 L486.5,252.4 L487.0,253.2 L487.5,254.1 L488.0,255.0 L488.5,255.9 L489.0,256.7 L489.5,257.6 L490.0,258.5 L490.5,259.4 L491.0,260.3 L491.5,261.1 L492.0,262.0 L492.5,262.9 L493.0,263.8 L493.5,264.7 L494.0,265.6 L494.5,266.5 L495.0,267.4 L495.2,267.7 L495.5,268.3 L496.0,269.2 L496.5,270.1 L497.0,271.0 L497.5,271.9 L498.0,272.8 L498.5,273.7 L499.0,274.6 L499.5,275.5 L500.0,276.4 L500.5,277.3 L501.0,278.2 L501.5,279.1 L502.0,280.0 L502.5,280.9 L503.0,281.8 L503.5,282.8 L504.0,283.7 L504.5,284.6 L505.0,285.5 L505.2,285.8 L505.5,286.4 L506.0,287.3 L506.5,288.2 L507.0,289.1 L507.5,290.0 L508.0,291.0 L508.5,291.9 L509.0,292.8 L509.5,293.7 L510.0,294.6 L510.5,295.5 L511.0,296.5 L511.5,297.4 L512.0,298.3 L512.5,299.2 L513.0,300.1 L513.5,301.0 L514.0,302.0 L514.5,302.9 L515.0,303.8 L515.2,304.2 L515.5,304.7 L516.0,305.6 L516.5,306.5 L517.0,307.4 L517.5,308.4 L518.0,309.3 L518.5,310.2 L519.0,311.1 L519.5,312.0 L520.0,312.9 L520.5,313.8 L521.0,314.8 L521.5,315.7 L522.0,316.6 L522.5,317.5 L523.0,318.4 L523.5,319.3 L524.0,320.2 L524.5,321.1 L525.0,322.0 L525.2,322.4 L525.5,322.9 L526.0,323.8 L526.5,324.7 L527.0,325.6 L527.5,326.5 L528.0,327.4 L528.5,328.3 L529.0,329.2 L529.5,330.1 L530.0,331.0 L530.5,331.9 L531.0,332.8 L531.5,333.7 L532.0,334.6 L532.5,335.4 L533.0,336.3 L533.5,337.2 L534.0,338.1 L534.5,339.0 L535.0,339.9 L535.5,340.7 L536.0,341.6 L536.5,342.5 L536.6,342.7 L537.0,343.4 L537.5,344.2 L538.0,345.1 L538.5,346.0 L539.0,346.8 L539.5,347.7 L540.0,348.5 L540.5,349.4 L541.0,350.3 L541.5,351.1 L542.0,352.0 L542.5,352.8 L543.0,353.7 L543.5,354.5 L544.0,355.3 L544.5,356.2 L545.0,357.0 L545.2,357.4 L545.5,357.9 L546.0,358.7 L546.5,359.5 L547.0,360.3 L547.5,361.2 L548.0,362.0 L548.5,362.8 L549.0,363.6 L549.5,364.4 L550.0,365.3 L550.5,366.1 L551.0,366.9 L551.5,367.7 L552.0,368.5 L552.5,369.3 L553.0,370.1 L553.5,370.9 L554.0,371.7 L554.5,372.4 L555.0,373.2 L555.2,373.5 L555.5,374.0 L556.0,374.8 L556.5,375.6 L557.0,376.3 L557.5,377.1 L558.0,377.9 L558.5,378.6 L559.0,379.4 L559.5,380.1 L560.0,380.9 L560.5,381.6 L561.0,382.4 L561.5,383.1 L562.0,383.9 L562.5,384.6 L563.0,385.3 L563.5,386.1 L564.0,386.8 L564.5,387.5 L565.0,388.2 L565.2,388.5 L565.5,388.9 L566.0,389.6 L566.5,390.3 L567.0,391.0 L567.5,391.7 L568.0,392.4 L568.5,393.1 L569.0,393.8 L569.5,394.5 L570.0,395.2 L570.5,395.8 L571.0,396.5 L571.5,397.2 L572.0,397.9 L572.5,398.5 L573.0,399.2 L573.5,399.8 L574.0,400.5 L574.5,401.1 L575.0,401.7 L575.2,402.0 L575.5,402.4 L576.0,403.0 L576.5,403.6 L577.0,404.2 L577.5,404.8 L578.0,405.5 L578.5,406.1 L579.0,406.7 L579.5,407.3 L580.0,407.9 L580.5,408.5 L581.0,409.0 L581.5,409.6 L582.0,410.2 L582.5,410.8 L583.0,411.3 L583.5,411.9 L584.0,412.4 L584.5,413.0 L585.0,413.5 L585.2,413.7 L585.5,414.1 L586.0,414.6 L586.5,415.1 L587.0,415.6 L587.5,416.2 L588.0,416.7 L588.5,417.2 L589.0,417.7 L589.5,418.2 L590.0,418.7 L590.5,419.2 L591.0,419.7 L591.5,420.2 L592.0,420.6 L592.5,421.1 L593.0,421.6 L593.5,422.0 L594.0,422.5 L594.5,422.9 L595.0,423.3 L595.2,423.5 L595.5,423.8 L596.0,424.2 L596.5,424.6 L597.0,425.0 L597.5,425.5 L598.0,425.9 L598.5,426.3 L599.0,426.7 L599.5,427.1 L600.0,427.5 L600.5,427.9 L601.0,428.2 L601.5,428.6 L602.0,429.0 L602.5,429.3 L603.0,429.7 L603.5,430.0 L604.0,430.3 L604.5,430.6 L605.0,430.9 L605.2,431.1 L605.5,431.2 L606.0,431.5 L606.5,431.8 L607.0,432.1 L607.5,432.4 L608.0,432.7 L608.5,432.9 L609.0,433.2 L609.5,433.5 L610.0,433.7 L610.5,434.0 L611.0,434.2 L611.5,434.5 L612.0,434.7 L612.5,434.9 L613.0,435.2 L613.5,435.4 L614.0,435.6 L614.5,435.8 L615.0,436.0 L615.5,436.2 L616.0,436.4 L616.5,436.6 L617.0,436.8 L617.5,436.9" stroke="#B177DE"/>
<polyline points="119.2,436.4 122.2,435.2 125.1,433.8 128.0,432.2 130.9,430.5 133.8,428.5 136.8,426.2 139.7,423.8 142.6,421.2 145.5,418.4 148.5,415.4 151.4,412.2 154.3,408.9 157.2,405.4 160.1,401.8 163.1,398.0 166.0,394.1 168.9,390.0 171.8,385.9 174.7,381.6 177.7,377.1 180.6,372.6 183.5,368.0 186.4,363.2 189.4,358.4 192.3,353.5 195.2,348.5 198.1,343.5 201.0,338.4 204.0,333.2 206.9,328.0 209.8,322.7 212.7,317.4 215.7,312.1 218.6,306.8 221.5,301.4 224.4,296.1 227.3,290.7 230.3,285.4 233.2,280.0 236.1,274.7 239.0,269.5 242.0,264.3 244.9,259.1 247.8,253.9 250.7,248.9 253.6,243.9 256.6,238.9 259.5,234.1 262.4,229.5 265.3,224.9 268.3,220.5 271.2,216.0 274.1,211.6 277.0,207.0 279.9,202.7 282.9,199.0 285.8,195.7 288.7,192.5 291.6,189.5 294.6,186.7 297.5,184.1 300.4,181.8 303.3,179.8 306.2,178.1 309.2,176.7 312.1,175.5 315.0,174.5 317.9,173.9 320.8,173.4 323.8,173.1 326.7,173.0 329.6,173.1 332.5,173.3 335.5,173.5 338.4,173.9 341.3,174.2 344.2,174.3 347.1,173.9 350.1,172.6 353.0,170.5 355.9,169.0 358.8,172.1 361.8,194.3 364.7,227.7 367.6,261.0 370.5,227.7 373.4,194.3 376.4,172.1 379.3,169.0 382.2,170.5 385.1,172.6 388.1,173.9 391.0,174.3 393.9,174.2 396.8,173.9 399.7,173.5 402.7,173.3 405.6,173.1 408.5,173.0 411.4,173.1 414.4,173.4 417.3,173.9 420.2,174.5 423.1,175.5 426.0,176.7 429.0,178.1 431.9,179.8 434.8,181.8 437.7,184.1 440.7,186.7 443.6,189.5 446.5,192.5 449.4,195.7 452.3,199.0 455.3,202.7 458.2,207.0 461.1,211.6 464.0,216.0 466.9,220.5 469.9,224.9 472.8,229.5 475.7,234.1 478.6,238.9 481.6,243.9 484.5,248.9 487.4,253.9 490.3,259.1 493.2,264.3 496.2,269.5 499.1,274.7 502.0,280.0 504.9,285.4 507.9,290.7 510.8,296.1 513.7,301.4 516.6,306.8 519.5,312.1 522.5,317.4 525.4,322.7 528.3,328.0 531.2,333.2 534.2,338.4 537.1,343.5 540.0,348.5 542.9,353.5 545.8,358.4 548.8,363.2 551.7,368.0 554.6,372.6 557.5,377.1 560.5,381.6 563.4,385.9 566.3,390.0 569.2,394.1 572.1,398.0 575.1,401.8 578.0,405.4 580.9,408.9 583.8,412.2 586.8,415.4 589.7,418.4 592.6,421.2 595.5,423.8 598.4,426.2 601.4,428.5 604.3,430.5 607.2,432.2 610.1,433.8 613.0,435.2 616.0,436.4" stroke="none" marker-start="url(#mpurple)" marker-mid="url(#mpurple)" marker-end="url(#mpurple)"/>
</g>
<g stroke="#000" stroke-width="1.65"><line x1="112.07" y1="464.3" x2="112.07" y2="460.3"/><line x1="148.60" y1="464.3" x2="148.60" y2="456.8"/><line x1="185.12" y1="464.3" x2="185.12" y2="460.3"/><line x1="221.65" y1="464.3" x2="221.65" y2="456.8"/><line x1="258.18" y1="464.3" x2="258.18" y2="460.3"/><line x1="294.70" y1="464.3" x2="294.70" y2="456.8"/><line x1="331.23" y1="464.3" x2="331.23" y2="460.3"/><line x1="367.75" y1="464.3" x2="367.75" y2="456.8"/><line x1="404.27" y1="464.3" x2="404.27" y2="460.3"/><line x1="440.80" y1="464.3" x2="440.80" y2="456.8"/><line x1="477.32" y1="464.3" x2="477.32" y2="460.3"/><line x1="513.85" y1="464.3" x2="513.85" y2="456.8"/><line x1="550.38" y1="464.3" x2="550.38" y2="460.3"/><line x1="586.90" y1="464.3" x2="586.90" y2="456.8"/><line x1="623.42" y1="464.3" x2="623.42" y2="460.3"/><line x1="75.4" y1="444.35" x2="83.4" y2="444.35"/><line x1="75.4" y1="404.00" x2="79.4" y2="404.00"/><line x1="75.4" y1="363.65" x2="83.4" y2="363.65"/><line x1="75.4" y1="323.30" x2="79.4" y2="323.30"/><line x1="75.4" y1="282.95" x2="83.4" y2="282.95"/><line x1="75.4" y1="242.60" x2="79.4" y2="242.60"/><line x1="75.4" y1="202.25" x2="83.4" y2="202.25"/><line x1="75.4" y1="161.90" x2="79.4" y2="161.90"/><line x1="75.4" y1="121.55" x2="83.4" y2="121.55"/><line x1="75.4" y1="81.20" x2="79.4" y2="81.20"/><line x1="75.4" y1="40.85" x2="83.4" y2="40.85"/></g>
<rect x="75.4" y="0.55" width="584.85" height="463.75" fill="none" stroke="#000" stroke-width="1.75"/>
<g font-size="25.3"><text x="75.55" y="493.6" text-anchor="middle">-4000</text><text x="148.60" y="493.6" text-anchor="middle">-3000</text><text x="221.65" y="493.6" text-anchor="middle">-2000</text><text x="294.70" y="493.6" text-anchor="middle">-1000</text><text x="367.75" y="493.6" text-anchor="middle">0</text><text x="440.80" y="493.6" text-anchor="middle">1000</text><text x="513.85" y="493.6" text-anchor="middle">2000</text><text x="586.90" y="493.6" text-anchor="middle">3000</text><text x="659.95" y="493.6" text-anchor="middle">4000</text><text x="66.3" y="452.55" text-anchor="end">0.0</text><text x="66.3" y="371.85" text-anchor="end">0.2</text><text x="66.3" y="291.15" text-anchor="end">0.4</text><text x="66.3" y="210.45" text-anchor="end">0.6</text><text x="66.3" y="129.75" text-anchor="end">0.8</text><text x="66.3" y="49.05" text-anchor="end">1.0</text></g>
<g font-size="24"><line x1="82.5" y1="34.5" x2="131.3" y2="34.5" stroke="#515151" stroke-width="2.6" stroke-linecap="round"/><line x1="107.0" y1="34.7" x2="107.0" y2="36.4" stroke="#515151" stroke-width="1.6"/><text transform="translate(137.2,41.9) scale(1,1.05)">Overall warming 10</text><circle cx="345.6" cy="29.8" r="2.9" fill="none" stroke="#000" stroke-width="1.9"/><text transform="translate(348.2,42.0) scale(1,1.03)" font-size="26">C</text><line x1="374.0" y1="34.5" x2="422.8" y2="34.5" stroke="#F14040" stroke-width="2.6" stroke-linecap="round"/><line x1="398.5" y1="34.7" x2="398.5" y2="36.4" stroke="#F14040" stroke-width="1.6"/><text transform="translate(428.8,41.9) scale(1,1.05)">Overall warming 20</text><circle cx="638.6" cy="29.8" r="2.9" fill="none" stroke="#000" stroke-width="1.9"/><text transform="translate(641.2,42.0) scale(1,1.03)" font-size="26">C</text><line x1="82.5" y1="64.4" x2="131.3" y2="64.4" stroke="#1A6FDF" stroke-width="2.6" stroke-linecap="round"/><line x1="107.0" y1="62.50000000000001" x2="107.0" y2="64.60000000000001" stroke="#1A6FDF" stroke-width="1.6"/><text transform="translate(137.2,71.8) scale(1,1.05)">Overall warming 30</text><circle cx="345.6" cy="59.7" r="2.9" fill="none" stroke="#000" stroke-width="1.9"/><text transform="translate(348.2,71.9) scale(1,1.03)" font-size="26">C</text><line x1="374.0" y1="64.4" x2="422.8" y2="64.4" stroke="#37AD6B" stroke-width="2.6" stroke-linecap="round"/><line x1="398.5" y1="64.60000000000001" x2="398.5" y2="66.30000000000001" stroke="#37AD6B" stroke-width="1.6"/><text transform="translate(428.8,71.8) scale(1,1.05)">Overall warming 40</text><circle cx="638.6" cy="59.7" r="2.9" fill="none" stroke="#000" stroke-width="1.9"/><text transform="translate(641.2,71.9) scale(1,1.03)" font-size="26">C</text><line x1="82.5" y1="94.3" x2="131.3" y2="94.3" stroke="#B177DE" stroke-width="2.6" stroke-linecap="round"/><line x1="107.0" y1="92.6" x2="107.0" y2="96.0" stroke="#B177DE" stroke-width="1.6"/><text transform="translate(137.2,101.7) scale(1,1.05)">Overall warming 50</text><circle cx="345.6" cy="89.6" r="2.9" fill="none" stroke="#000" stroke-width="1.9"/><text transform="translate(348.2,101.8) scale(1,1.03)" font-size="26">C</text></g>
<text font-size="27.5" x="197.5" y="527.3">Longitudinal</text><text font-size="27.1" x="359.6" y="527.3">position</text>
<polygon points="452.3,527.4 455.5,527.4 463.4,504.5 460.4,504.5"/>
<text font-size="35.3" transform="translate(463.2,527.2) scale(0.915,1)">mm</text>
<g transform="translate(24.0,417.3) rotate(-90)">
<text font-size="27.6" transform="scale(1,1.06)" x="0" y="0">Separation between layers</text>
<polygon points="310.4,0 313.0,0 320.4,-27 317.8,-27"/>
<text font-size="35.5" transform="translate(319.6,0) scale(0.915,1)">cm</text>
</g>
</svg>
</body></html>
